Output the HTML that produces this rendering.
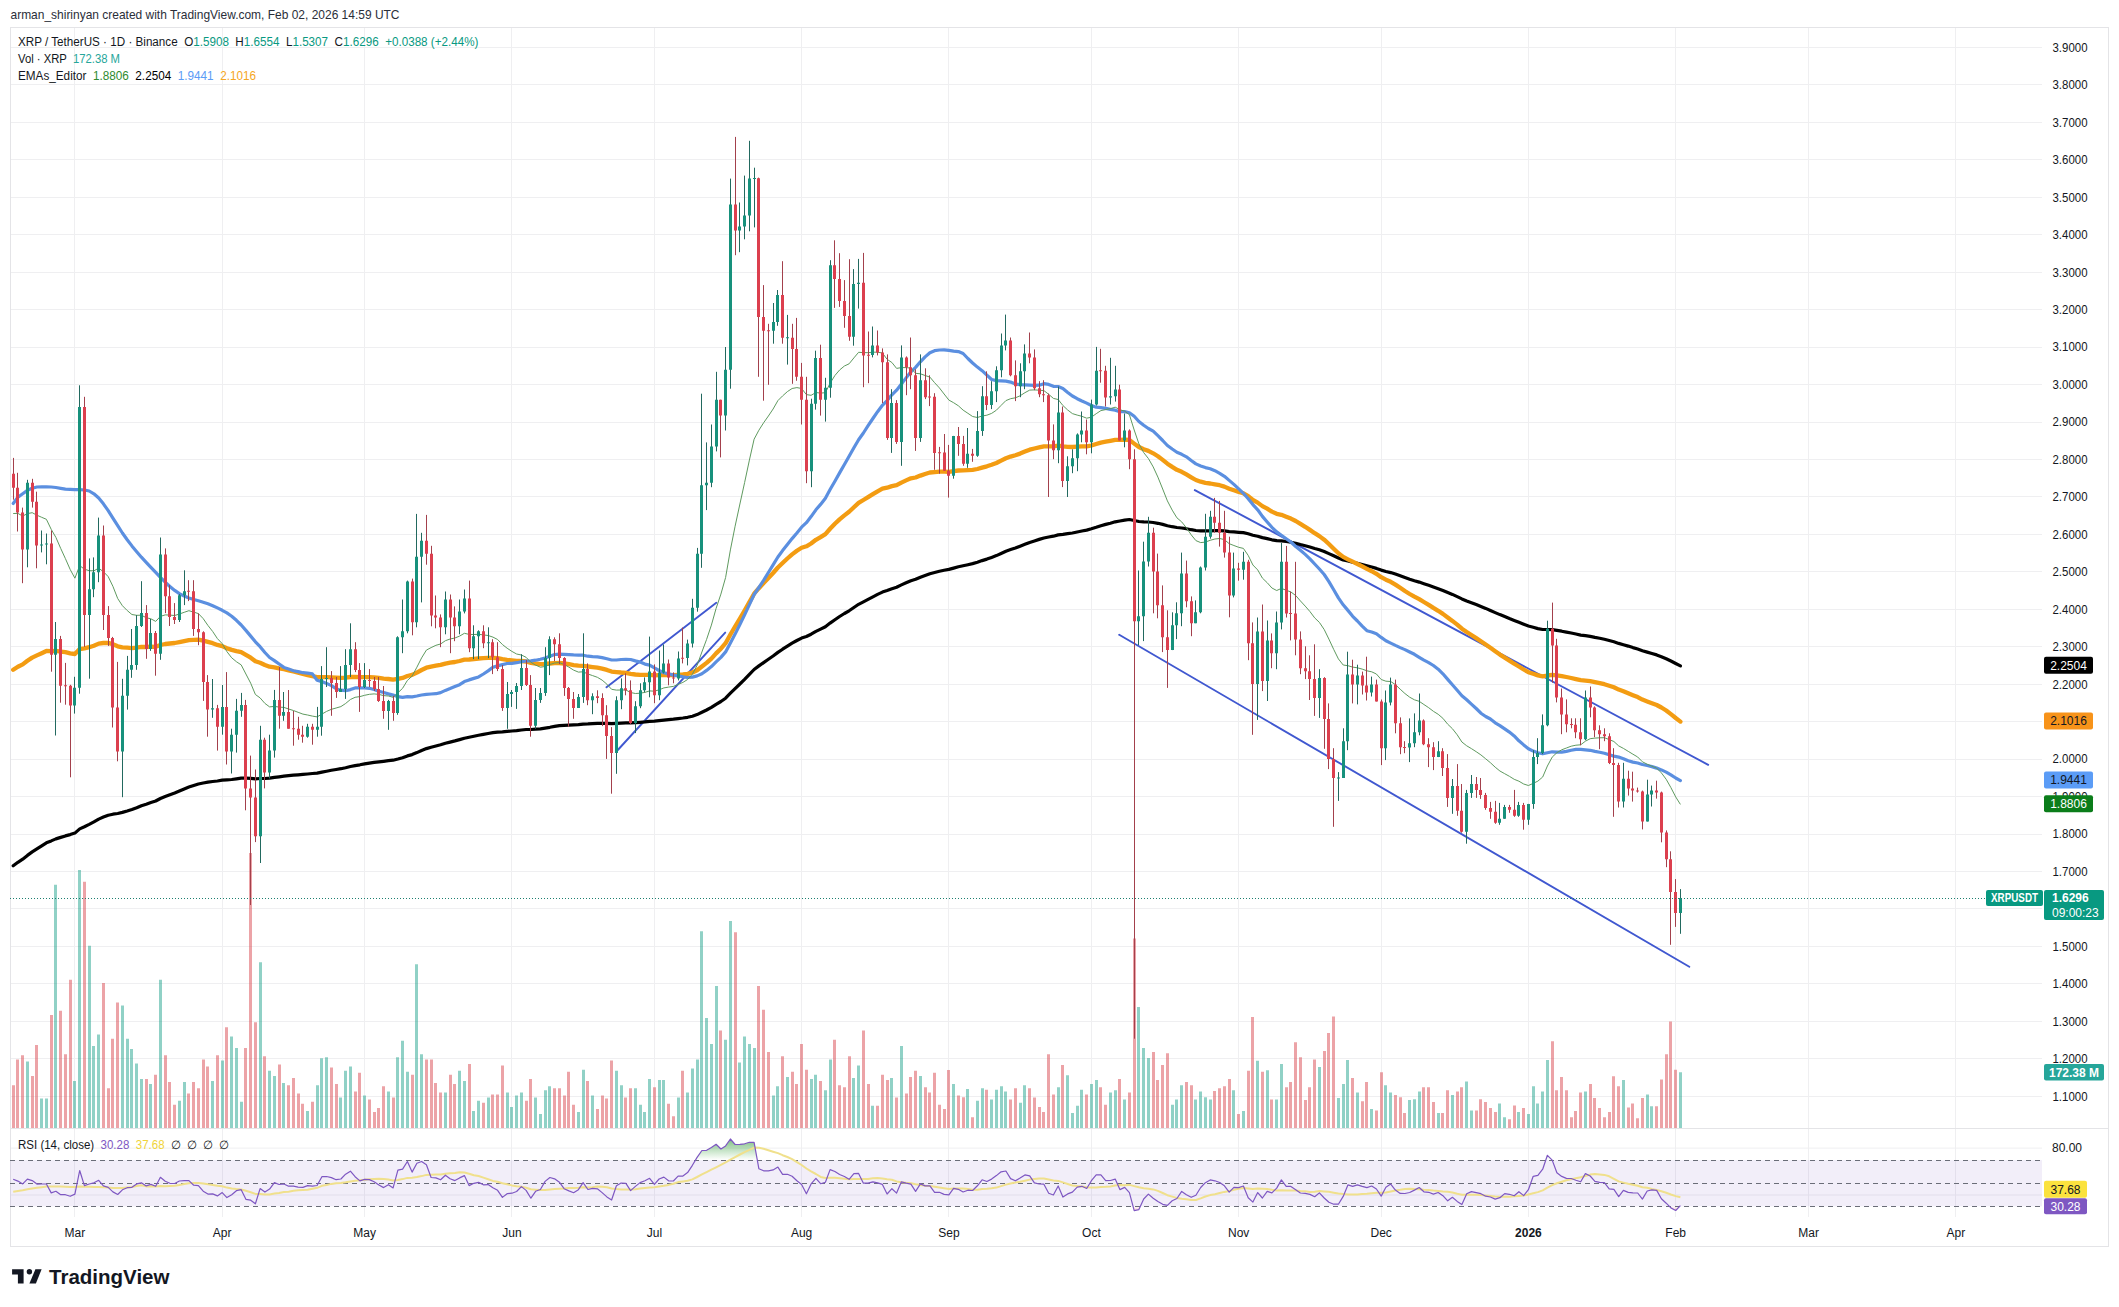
<!DOCTYPE html><html><head><meta charset="utf-8"><style>html,body{margin:0;padding:0;background:#fff;}svg{display:block;}text{font-family:"Liberation Sans", sans-serif;}</style></head><body>
<svg width="2119" height="1307" viewBox="0 0 2119 1307">
<defs><clipPath id="main"><rect x="10" y="27" width="2032" height="1101"/></clipPath><clipPath id="rsic"><rect x="10" y="1129" width="2032" height="88"/></clipPath><linearGradient id="ob" gradientUnits="userSpaceOnUse" x1="0" y1="1137" x2="0" y2="1160"><stop offset="0" stop-color="#3f9c45" stop-opacity="0.75"/><stop offset="1" stop-color="#4caf50" stop-opacity="0"/></linearGradient><linearGradient id="os" gradientUnits="userSpaceOnUse" x1="0" y1="1206" x2="0" y2="1216"><stop offset="0" stop-color="#f23645" stop-opacity="0"/><stop offset="1" stop-color="#f23645" stop-opacity="0.5"/></linearGradient></defs>
<rect width="2119" height="1307" fill="#ffffff"/>
<text x="10.5" y="18.5" font-size="13" fill="#2a2e39" textLength="389" lengthAdjust="spacingAndGlyphs">arman_shirinyan created with TradingView.com, Feb 02, 2026 14:59 UTC</text>
<path d="M10 1096.5H2042M10 1058.5H2042M10 1021.5H2042M10 983.5H2042M10 946.5H2042M10 908.5H2042M10 871.5H2042M10 834.5H2042M10 796.5H2042M10 759.5H2042M10 721.5H2042M10 684.5H2042M10 646.5H2042M10 609.5H2042M10 571.5H2042M10 534.5H2042M10 496.5H2042M10 459.5H2042M10 422.5H2042M10 384.5H2042M10 347.5H2042M10 309.5H2042M10 272.5H2042M10 234.5H2042M10 197.5H2042M10 159.5H2042M10 122.5H2042M10 84.5H2042M10 47.5H2042M74.5 27V1217M222.5 27V1217M364.5 27V1217M511.5 27V1217M654.5 27V1217M801.5 27V1217M948.5 27V1217M1091.5 27V1217M1238.5 27V1217M1381.5 27V1217M1528.5 27V1217M1675.5 27V1217M1808.5 27V1217M1955.5 27V1217" stroke="#efeff1" stroke-width="1" fill="none"/>
<path d="M10 1148.1H2042M10 1195H2042" stroke="#efeff1" stroke-width="1"/>
<rect x="10.5" y="27.5" width="2098" height="1219" fill="none" stroke="#e4e4e7" stroke-width="1"/>
<path d="M10 1128.5H2109" stroke="#e4e4e7" stroke-width="1"/>
<g clip-path="url(#main)">
<path d="M26 1061.4H29V1128H26ZM40 1098.6H43V1128H40ZM45 1098.6H48V1128H45ZM54 884.8H57V1128H54ZM73 1081.0H76V1128H73ZM78 869.9H81V1128H78ZM88 945.7H91V1128H88ZM92 1045.9H95V1128H92ZM97 1034.6H100V1128H97ZM121 1005.6H124V1128H121ZM126 1038.7H129V1128H126ZM130 1049.0H133V1128H130ZM135 1063.5H138V1128H135ZM140 1079.0H143V1128H140ZM149 1084.1H152V1128H149ZM159 979.8H162V1128H159ZM178 1100.7H181V1128H178ZM183 1082.1H186V1128H183ZM211 1081.0H214V1128H211ZM221 1060.4H224V1128H221ZM230 1036.6H233V1128H230ZM235 1048.0H238V1128H235ZM240 1101.7H243V1128H240ZM259 962.3H262V1128H259ZM268 1070.7H271V1128H268ZM273 1075.9H276V1128H273ZM282 1083.1H285V1128H282ZM306 1111.0H309V1128H306ZM316 1085.2H319V1128H316ZM320 1058.3H323V1128H320ZM325 1057.3H328V1128H325ZM339 1097.6H342V1128H339ZM344 1070.7H347V1128H344ZM349 1066.6H352V1128H349ZM363 1095.5H366V1128H363ZM387 1091.4H390V1128H387ZM396 1057.3H399V1128H396ZM401 1040.8H404V1128H401ZM406 1071.7H409V1128H406ZM415 964.3H418V1128H415ZM420 1054.2H423V1128H420ZM444 1092.4H447V1128H444ZM458 1070.7H461V1128H458ZM463 1081.0H466V1128H463ZM472 1111.0H475V1128H472ZM477 1100.7H480V1128H477ZM487 1097.6H490V1128H487ZM506 1092.4H509V1128H506ZM510 1106.9H513V1128H510ZM515 1095.5H518V1128H515ZM520 1092.4H523V1128H520ZM534 1097.6H537V1128H534ZM539 1114.1H542V1128H539ZM544 1090.3H547V1128H544ZM548 1086.2H551V1128H548ZM577 1112.0H580V1128H577ZM582 1069.7H585V1128H582ZM591 1095.5H594V1128H591ZM615 1070.7H618V1128H615ZM620 1085.2H623V1128H620ZM634 1088.3H637V1128H634ZM639 1104.8H642V1128H639ZM643 1112.0H646V1128H643ZM648 1079.0H651V1128H648ZM658 1080.0H661V1128H658ZM662 1080.0H665V1128H662ZM677 1097.6H680V1128H677ZM686 1092.4H689V1128H686ZM691 1068.6H694V1128H691ZM696 1059.4H699V1128H696ZM700 931.3H703V1128H700ZM705 1018.0H708V1128H705ZM710 1043.9H713V1128H710ZM715 986.0H718V1128H715ZM724 1039.7H727V1128H724ZM729 920.9H732V1128H729ZM738 1062.5H741V1128H738ZM743 1036.6H746V1128H743ZM748 1043.9H751V1128H748ZM753 1048.0H756V1128H753ZM772 1095.5H775V1128H772ZM776 1086.2H779V1128H776ZM786 1076.9H789V1128H786ZM810 1079.0H813V1128H810ZM814 1074.8H817V1128H814ZM824 1090.3H827V1128H824ZM829 1059.4H832V1128H829ZM852 1077.9H855V1128H852ZM857 1065.5H860V1128H857ZM871 1105.8H874V1128H871ZM890 1077.9H893V1128H890ZM900 1045.9H903V1128H900ZM919 1075.9H922V1128H919ZM952 1084.1H955V1128H952ZM966 1088.9H969V1128H966ZM976 1100.7H979V1128H976ZM981 1088.3H984V1128H981ZM990 1099.6H993V1128H990ZM995 1089.7H998V1128H995ZM1000 1086.2H1003V1128H1000ZM1004 1091.4H1007V1128H1004ZM1019 1102.7H1022V1128H1019ZM1023 1085.2H1026V1128H1023ZM1057 1087.2H1060V1128H1057ZM1066 1075.3H1069V1128H1066ZM1071 1113.1H1074V1128H1071ZM1076 1105.8H1079V1128H1076ZM1080 1089.7H1083V1128H1080ZM1090 1084.1H1093V1128H1090ZM1095 1080.0H1098V1128H1095ZM1109 1092.4H1112V1128H1109ZM1114 1090.3H1117V1128H1114ZM1123 1099.6H1126V1128H1123ZM1137 1007.1H1140V1128H1137ZM1142 1048.0H1145V1128H1142ZM1147 1057.9H1150V1128H1147ZM1171 1104.8H1174V1128H1171ZM1175 1099.6H1178V1128H1175ZM1180 1085.2H1183V1128H1180ZM1194 1099.6H1197V1128H1194ZM1199 1091.4H1202V1128H1199ZM1204 1097.2H1207V1128H1204ZM1209 1099.6H1212V1128H1209ZM1232 1090.3H1235V1128H1232ZM1242 1111.0H1245V1128H1242ZM1256 1060.8H1259V1128H1256ZM1266 1070.3H1269V1128H1266ZM1275 1099.6H1278V1128H1275ZM1280 1064.1H1283V1128H1280ZM1318 1067.0H1321V1128H1318ZM1337 1098.0H1340V1128H1337ZM1342 1084.1H1345V1128H1342ZM1346 1060.0H1349V1128H1346ZM1356 1092.4H1359V1128H1356ZM1370 1108.9H1373V1128H1370ZM1384 1085.2H1387V1128H1384ZM1389 1092.4H1392V1128H1389ZM1408 1100.0H1411V1128H1408ZM1413 1099.2H1416V1128H1413ZM1418 1091.4H1421V1128H1418ZM1437 1113.1H1440V1128H1437ZM1451 1095.1H1454V1128H1451ZM1465 1081.5H1468V1128H1465ZM1470 1110.4H1473V1128H1470ZM1498 1103.4H1501V1128H1498ZM1503 1117.2H1506V1128H1503ZM1517 1112.0H1520V1128H1517ZM1527 1114.1H1530V1128H1527ZM1532 1086.2H1535V1128H1532ZM1536 1103.4H1539V1128H1536ZM1541 1091.4H1544V1128H1541ZM1546 1060.0H1549V1128H1546ZM1584 1091.4H1587V1128H1584ZM1622 1080.0H1625V1128H1622ZM1646 1094.5H1649V1128H1646ZM1650 1106.2H1653V1128H1650ZM1679 1072.2H1682V1128H1679Z" fill="#089981" fill-opacity="0.45"/>
<path d="M12 1085.2H15V1128H12ZM16 1059.4H19V1128H16ZM21 1055.2H24V1128H21ZM31 1075.9H34V1128H31ZM35 1044.9H38V1128H35ZM50 1014.9H53V1128H50ZM59 1010.8H62V1128H59ZM64 1054.2H67V1128H64ZM69 979.8H72V1128H69ZM83 881.7H86V1128H83ZM102 982.9H105V1128H102ZM107 1088.3H110V1128H107ZM111 1038.7H114V1128H111ZM116 1002.5H119V1128H116ZM145 1079.0H148V1128H145ZM154 1074.8H157V1128H154ZM164 1055.2H167V1128H164ZM168 1082.1H171V1128H168ZM173 1104.8H176V1128H173ZM187 1093.4H190V1128H187ZM192 1082.1H195V1128H192ZM197 1088.3H200V1128H197ZM202 1059.4H205V1128H202ZM206 1066.6H209V1128H206ZM216 1055.2H219V1128H216ZM225 1027.3H228V1128H225ZM244 1048.0H247V1128H244ZM249 853.0H252V1128H249ZM254 1022.2H257V1128H254ZM263 1056.3H266V1128H263ZM278 1064.5H281V1128H278ZM287 1085.2H290V1128H287ZM292 1077.9H295V1128H292ZM297 1093.4H300V1128H297ZM301 1103.8H304V1128H301ZM311 1101.7H314V1128H311ZM330 1067.6H333V1128H330ZM335 1084.1H338V1128H335ZM354 1091.4H357V1128H354ZM358 1072.8H361V1128H358ZM368 1099.6H371V1128H368ZM373 1112.0H376V1128H373ZM377 1107.9H380V1128H377ZM382 1086.2H385V1128H382ZM392 1097.6H395V1128H392ZM411 1074.8H414V1128H411ZM425 1059.4H428V1128H425ZM430 1059.4H433V1128H430ZM434 1083.1H437V1128H434ZM439 1092.4H442V1128H439ZM449 1074.8H452V1128H449ZM453 1084.1H456V1128H453ZM468 1064.1H471V1128H468ZM482 1102.7H485V1128H482ZM491 1094.5H494V1128H491ZM496 1094.5H499V1128H496ZM501 1065.5H504V1128H501ZM525 1100.7H528V1128H525ZM529 1079.0H532V1128H529ZM553 1088.3H556V1128H553ZM558 1088.3H561V1128H558ZM563 1095.5H566V1128H563ZM567 1071.7H570V1128H567ZM572 1104.8H575V1128H572ZM586 1081.0H589V1128H586ZM596 1108.9H599V1128H596ZM601 1095.5H604V1128H601ZM605 1098.6H608V1128H605ZM610 1060.4H613V1128H610ZM624 1097.6H627V1128H624ZM629 1088.3H632V1128H629ZM653 1087.2H656V1128H653ZM667 1103.8H670V1128H667ZM672 1116.2H675V1128H672ZM681 1070.7H684V1128H681ZM719 1030.4H722V1128H719ZM734 932.3H737V1128H734ZM757 986.0H760V1128H757ZM762 1009.8H765V1128H762ZM767 1052.1H770V1128H767ZM781 1056.3H784V1128H781ZM791 1071.7H794V1128H791ZM795 1084.1H798V1128H795ZM800 1043.9H803V1128H800ZM805 1069.7H808V1128H805ZM819 1081.0H822V1128H819ZM833 1039.7H836V1128H833ZM838 1085.2H841V1128H838ZM843 1087.2H846V1128H843ZM848 1056.3H851V1128H848ZM862 1030.4H865V1128H862ZM867 1084.1H870V1128H867ZM876 1105.8H879V1128H876ZM881 1074.8H884V1128H881ZM886 1080.0H889V1128H886ZM895 1097.6H898V1128H895ZM905 1093.4H908V1128H905ZM909 1076.9H912V1128H909ZM914 1070.7H917V1128H914ZM924 1087.2H927V1128H924ZM928 1092.4H931V1128H928ZM933 1072.8H936V1128H933ZM938 1104.8H941V1128H938ZM943 1108.9H946V1128H943ZM947 1070.1H950V1128H947ZM957 1095.5H960V1128H957ZM962 1097.2H965V1128H962ZM971 1117.2H974V1128H971ZM985 1089.7H988V1128H985ZM1009 1099.6H1012V1128H1009ZM1014 1088.3H1017V1128H1014ZM1028 1088.3H1031V1128H1028ZM1033 1097.6H1036V1128H1033ZM1038 1106.9H1041V1128H1038ZM1042 1112.0H1045V1128H1042ZM1047 1054.2H1050V1128H1047ZM1052 1094.5H1055V1128H1052ZM1061 1065.1H1064V1128H1061ZM1085 1094.5H1088V1128H1085ZM1099 1087.2H1102V1128H1099ZM1104 1104.8H1107V1128H1104ZM1118 1079.0H1121V1128H1118ZM1128 1092.4H1131V1128H1128ZM1133 938.5H1136V1128H1133ZM1152 1052.1H1155V1128H1152ZM1156 1080.0H1159V1128H1156ZM1161 1064.9H1164V1128H1161ZM1166 1053.2H1169V1128H1166ZM1185 1082.1H1188V1128H1185ZM1190 1085.2H1193V1128H1190ZM1213 1091.0H1216V1128H1213ZM1218 1088.3H1221V1128H1218ZM1223 1086.2H1226V1128H1223ZM1228 1079.0H1231V1128H1228ZM1237 1114.1H1240V1128H1237ZM1247 1070.7H1250V1128H1247ZM1251 1017.0H1254V1128H1251ZM1261 1071.7H1264V1128H1261ZM1270 1099.6H1273V1128H1270ZM1285 1087.2H1288V1128H1285ZM1289 1082.1H1292V1128H1289ZM1294 1042.2H1297V1128H1294ZM1299 1057.3H1302V1128H1299ZM1304 1100.0H1307V1128H1304ZM1308 1087.2H1311V1128H1308ZM1313 1059.4H1316V1128H1313ZM1323 1051.1H1326V1128H1323ZM1327 1033.1H1330V1128H1327ZM1332 1016.4H1335V1128H1332ZM1351 1077.9H1354V1128H1351ZM1361 1101.3H1364V1128H1361ZM1365 1082.1H1368V1128H1365ZM1375 1110.4H1378V1128H1375ZM1380 1072.2H1383V1128H1380ZM1394 1095.1H1397V1128H1394ZM1399 1097.2H1402V1128H1399ZM1403 1113.1H1406V1128H1403ZM1422 1087.2H1425V1128H1422ZM1427 1087.2H1430V1128H1427ZM1432 1102.1H1435V1128H1432ZM1441 1113.1H1444V1128H1441ZM1446 1090.3H1449V1128H1446ZM1456 1091.4H1459V1128H1456ZM1460 1087.2H1463V1128H1460ZM1475 1110.4H1478V1128H1475ZM1479 1099.2H1482V1128H1479ZM1484 1102.1H1487V1128H1484ZM1489 1107.9H1492V1128H1489ZM1494 1112.0H1497V1128H1494ZM1508 1119.3H1511V1128H1508ZM1513 1105.4H1516V1128H1513ZM1522 1107.9H1525V1128H1522ZM1551 1041.2H1554V1128H1551ZM1555 1090.3H1558V1128H1555ZM1560 1076.9H1563V1128H1560ZM1565 1090.3H1568V1128H1565ZM1570 1117.2H1573V1128H1570ZM1574 1111.0H1577V1128H1574ZM1579 1092.4H1582V1128H1579ZM1589 1084.1H1592V1128H1589ZM1593 1098.0H1596V1128H1593ZM1598 1107.9H1601V1128H1598ZM1603 1117.2H1606V1128H1603ZM1608 1112.0H1611V1128H1608ZM1612 1076.3H1615V1128H1612ZM1617 1086.2H1620V1128H1617ZM1627 1107.5H1630V1128H1627ZM1631 1103.4H1634V1128H1631ZM1636 1118.2H1639V1128H1636ZM1641 1098.0H1644V1128H1641ZM1655 1106.2H1658V1128H1655ZM1660 1079.4H1663V1128H1660ZM1665 1054.2H1668V1128H1665ZM1669 1021.5H1672V1128H1669ZM1674 1069.7H1677V1128H1674Z" fill="#d9484f" fill-opacity="0.5"/>
<path d="M606.5 687.3L716.3 602.8M617.8 750L725.2 632.6M1194.8 490.1L1708.2 764.8M1119.2 634.8L1689.3 966.7" stroke="#4058d0" stroke-width="1.9" fill="none" stroke-linecap="round"/>
<path d="M13.2 865.8L17.9 862.3L22.7 859.2L27.4 855.4L32.2 851.9L36.9 848.9L41.7 845.8L46.4 842.8L51.2 840.9L55.9 838.9L60.7 837.4L65.4 835.9L70.2 834.6L74.9 833.1L79.7 828.9L84.4 826.8L89.2 824.4L93.9 821.9L98.7 819.1L103.4 817.0L108.2 815.2L112.9 814.2L117.7 813.5L122.4 812.4L127.2 811.0L131.9 809.5L136.7 807.7L141.4 805.7L146.2 804.2L150.9 802.5L155.7 801.0L160.4 798.5L165.2 796.5L169.9 794.7L174.7 793.0L179.4 791.0L184.2 789.0L188.9 787.1L193.7 785.5L198.4 784.0L203.2 783.0L207.9 782.2L212.7 781.5L217.4 781.0L222.2 780.2L226.9 779.9L231.7 779.5L236.4 778.8L241.2 778.1L245.9 778.2L250.7 778.4L255.4 778.9L260.1 778.5L264.9 778.5L269.6 778.2L274.4 777.4L279.1 776.8L283.9 776.2L288.6 775.7L293.4 775.2L298.1 774.8L302.9 774.4L307.6 774.0L312.4 773.5L317.1 773.1L321.9 772.1L326.6 771.2L331.4 770.3L336.1 769.5L340.9 768.7L345.6 767.7L350.4 766.5L355.1 765.6L359.9 764.8L364.6 763.9L369.4 763.1L374.1 762.4L378.9 761.8L383.6 761.3L388.4 760.7L393.1 760.2L397.9 759.0L402.6 757.7L407.4 755.9L412.1 754.6L416.9 752.6L421.6 750.5L426.4 748.6L431.1 747.2L435.9 746.0L440.6 744.8L445.4 743.3L450.1 742.1L454.9 740.9L459.6 739.6L464.4 738.2L469.1 737.3L473.9 736.3L478.6 735.3L483.4 734.4L488.1 733.5L492.9 732.7L497.6 732.1L502.4 731.8L507.1 731.4L511.9 731.0L516.6 730.6L521.4 730.0L526.1 729.5L530.9 729.5L535.6 729.2L540.4 728.8L545.1 728.1L549.9 727.3L554.6 726.4L559.4 725.7L564.1 725.4L568.9 725.1L573.6 724.9L578.4 724.7L583.1 724.1L587.9 723.9L592.6 723.6L597.4 723.3L602.1 723.3L606.9 723.4L611.6 723.7L616.4 723.4L621.1 723.1L625.9 722.8L630.6 722.8L635.4 722.6L640.1 722.3L644.9 721.9L649.6 721.4L654.4 721.1L659.1 720.6L663.9 720.1L668.6 719.6L673.4 719.2L678.1 718.6L682.9 718.0L687.6 717.3L692.4 716.2L697.1 714.6L701.9 712.3L706.6 710.0L711.4 707.4L716.1 704.3L720.9 701.5L725.6 698.2L730.4 693.2L735.1 688.6L739.9 684.0L744.6 679.4L749.4 674.4L754.1 669.5L758.9 665.9L763.6 662.6L768.4 659.3L773.1 656.0L777.9 652.4L782.6 649.2L787.4 646.1L792.1 643.2L796.9 640.5L801.6 638.1L806.4 636.5L811.1 634.2L815.9 631.4L820.6 629.1L825.4 626.7L830.1 623.1L834.9 619.7L839.6 616.5L844.4 613.5L849.1 610.8L853.9 607.5L858.6 604.3L863.4 601.8L868.1 599.3L872.9 596.8L877.6 594.4L882.4 592.1L887.1 590.5L891.9 588.7L896.6 587.2L901.4 584.9L906.1 582.8L910.9 580.7L915.6 579.3L920.4 577.3L925.1 575.5L929.9 573.7L934.6 572.5L939.4 571.3L944.1 570.3L948.9 569.4L953.6 568.1L958.4 566.8L963.1 565.8L967.9 564.7L972.6 563.6L977.4 562.3L982.1 560.6L986.9 559.1L991.6 557.4L996.4 555.6L1001.1 553.5L1005.9 551.3L1010.6 549.6L1015.4 548.0L1020.1 546.2L1024.9 544.3L1029.7 542.4L1034.4 540.9L1039.2 539.4L1043.9 538.0L1048.7 537.0L1053.4 536.2L1058.2 534.9L1062.9 534.4L1067.7 533.7L1072.4 533.0L1077.2 532.0L1081.9 531.0L1086.7 530.1L1091.4 528.8L1096.2 527.3L1100.9 525.7L1105.7 524.4L1110.4 523.2L1115.2 521.8L1119.9 521.0L1124.7 520.1L1129.4 519.5L1134.2 520.5L1138.9 521.5L1143.7 521.9L1148.4 522.0L1153.2 522.5L1157.9 523.3L1162.7 524.4L1167.4 525.7L1172.2 526.7L1176.9 527.5L1181.7 528.0L1186.4 528.7L1191.2 529.7L1195.9 530.5L1200.7 530.9L1205.4 530.9L1210.2 530.8L1214.9 530.7L1219.7 530.7L1224.4 530.9L1229.2 531.6L1233.9 531.9L1238.7 532.3L1243.4 532.6L1248.2 533.7L1252.9 535.2L1257.7 536.2L1262.4 537.6L1267.2 538.6L1271.9 539.8L1276.7 540.6L1281.4 540.8L1286.2 541.5L1290.9 542.2L1295.7 543.2L1300.4 544.5L1305.2 545.7L1309.9 547.0L1314.7 548.5L1319.4 549.8L1324.2 551.5L1328.9 553.6L1333.7 555.8L1338.4 558.0L1343.2 559.9L1347.9 561.0L1352.7 562.2L1357.4 563.4L1362.2 564.6L1366.9 565.8L1371.7 567.0L1376.4 568.4L1381.2 570.1L1385.9 571.5L1390.7 572.6L1395.4 574.1L1400.2 575.8L1404.9 577.5L1409.7 579.2L1414.4 580.7L1419.2 582.1L1423.9 583.7L1428.7 585.3L1433.4 587.0L1438.2 588.7L1442.9 590.5L1447.7 592.5L1452.4 594.4L1457.2 596.6L1461.9 598.9L1466.7 600.9L1471.4 602.7L1476.2 604.5L1480.9 606.4L1485.7 608.4L1490.4 610.5L1495.2 612.6L1499.9 614.6L1504.7 616.5L1509.4 618.5L1514.2 620.4L1518.9 622.3L1523.7 624.2L1528.4 626.0L1533.2 627.3L1537.9 628.6L1542.7 629.5L1547.4 629.5L1552.2 629.7L1556.9 630.4L1561.7 631.2L1566.4 632.1L1571.2 633.0L1575.9 634.0L1580.7 635.1L1585.4 635.7L1590.2 636.4L1594.9 637.4L1599.7 638.3L1604.4 639.3L1609.2 640.5L1613.9 641.8L1618.7 643.4L1623.4 644.7L1628.2 646.1L1632.9 647.6L1637.7 649.0L1642.4 650.7L1647.2 652.1L1651.9 653.5L1656.7 654.9L1661.4 656.7L1666.2 658.7L1670.9 661.0L1675.7 663.5L1680.4 665.9" stroke="#000000" stroke-width="3.2" fill="none" stroke-linejoin="round" stroke-linecap="round"/>
<path d="M13.2 669.8L17.9 666.7L22.7 664.4L27.4 660.8L32.2 657.6L36.9 655.4L41.7 653.2L46.4 651.0L51.2 651.1L55.9 650.9L60.7 651.6L65.4 652.2L70.2 653.3L74.9 654.0L79.7 649.1L84.4 648.4L89.2 647.2L93.9 645.7L98.7 643.6L103.4 643.0L108.2 642.9L112.9 644.2L117.7 646.3L122.4 647.3L127.2 647.7L131.9 648.1L136.7 647.6L141.4 646.9L146.2 647.0L150.9 646.7L155.7 646.8L160.4 645.0L165.2 644.0L169.9 643.5L174.7 643.0L179.4 642.1L184.2 641.1L188.9 640.1L193.7 639.9L198.4 639.7L203.2 640.6L207.9 641.9L212.7 643.2L217.4 644.9L222.2 646.1L226.9 648.2L231.7 649.9L236.4 651.1L241.2 652.2L245.9 654.9L250.7 657.7L255.4 661.3L260.1 662.8L264.9 665.0L269.6 666.7L274.4 667.3L279.1 668.3L283.9 669.2L288.6 670.3L293.4 671.5L298.1 672.7L302.9 674.0L307.6 675.1L312.4 676.1L317.1 677.1L321.9 677.2L326.6 677.2L331.4 677.3L336.1 677.6L340.9 677.8L345.6 677.6L350.4 677.0L355.1 676.9L359.9 677.1L364.6 677.1L369.4 677.2L374.1 677.4L378.9 677.9L383.6 678.6L388.4 679.0L393.1 679.7L397.9 678.8L402.6 677.9L407.4 676.0L412.1 674.9L416.9 672.6L421.6 670.0L426.4 667.7L431.1 666.6L435.9 665.7L440.6 664.9L445.4 663.6L450.1 662.7L454.9 662.0L459.6 661.0L464.4 659.7L469.1 659.5L473.9 659.0L478.6 658.5L483.4 658.2L488.1 657.9L492.9 657.9L497.6 658.1L502.4 659.1L507.1 659.8L511.9 660.4L516.6 660.9L521.4 661.0L526.1 661.5L530.9 662.8L535.6 663.5L540.4 664.1L545.1 664.0L549.9 663.5L554.6 663.1L559.4 663.0L564.1 663.5L568.9 664.2L573.6 665.1L578.4 665.7L583.1 665.8L587.9 666.5L592.6 667.1L597.4 667.7L602.1 668.6L606.9 669.9L611.6 671.6L616.4 672.1L621.1 672.5L625.9 672.8L630.6 673.8L635.4 674.5L640.1 674.8L644.9 674.9L649.6 674.9L654.4 675.3L659.1 675.2L663.9 675.0L668.6 675.0L673.4 675.1L678.1 674.8L682.9 674.4L687.6 673.8L692.4 672.5L697.1 670.2L701.9 666.5L706.6 662.9L711.4 658.6L716.1 653.4L720.9 648.7L725.6 643.2L730.4 634.5L735.1 626.5L739.9 618.6L744.6 610.6L749.4 602.1L754.1 593.7L758.9 588.2L763.6 583.1L768.4 578.1L773.1 573.0L777.9 567.5L782.6 563.0L787.4 558.5L792.1 554.4L796.9 550.8L801.6 547.8L806.4 546.3L811.1 543.5L815.9 539.8L820.6 537.1L825.4 534.1L830.1 528.8L834.9 523.8L839.6 519.4L844.4 515.4L849.1 511.8L853.9 507.3L858.6 502.9L863.4 500.0L868.1 497.1L872.9 494.1L877.6 491.3L882.4 488.7L887.1 487.7L891.9 486.1L896.6 485.2L901.4 482.6L906.1 480.4L910.9 478.3L915.6 477.5L920.4 475.6L925.1 474.0L929.9 472.5L934.6 472.1L939.4 471.7L944.1 471.7L948.9 471.8L953.6 471.1L958.4 470.5L963.1 470.4L967.9 470.1L972.6 469.8L977.4 469.0L982.1 467.6L986.9 466.3L991.6 464.8L996.4 463.0L1001.1 460.6L1005.9 458.3L1010.6 456.6L1015.4 455.2L1020.1 453.6L1024.9 451.6L1029.7 449.7L1034.4 448.5L1039.2 447.4L1043.9 446.4L1048.7 446.3L1053.4 446.3L1058.2 445.7L1062.9 446.4L1067.7 446.8L1072.4 447.0L1077.2 446.7L1081.9 446.4L1086.7 446.3L1091.4 445.5L1096.2 444.0L1100.9 442.6L1105.7 441.7L1110.4 440.8L1115.2 439.8L1119.9 439.8L1124.7 439.6L1129.4 440.0L1134.2 443.6L1138.9 447.0L1143.7 449.3L1148.4 450.9L1153.2 453.3L1157.9 456.3L1162.7 459.9L1167.4 463.7L1172.2 466.9L1176.9 469.8L1181.7 471.8L1186.4 474.4L1191.2 477.3L1195.9 480.0L1200.7 481.7L1205.4 482.8L1210.2 483.5L1214.9 484.3L1219.7 485.2L1224.4 486.6L1229.2 488.7L1233.9 490.3L1238.7 491.9L1243.4 493.3L1248.2 496.2L1252.9 500.0L1257.7 502.6L1262.4 506.1L1267.2 508.7L1271.9 511.6L1276.7 513.8L1281.4 514.8L1286.2 516.7L1290.9 518.6L1295.7 521.0L1300.4 523.9L1305.2 526.8L1309.9 529.9L1314.7 533.2L1319.4 536.1L1324.2 539.7L1328.9 544.0L1333.7 548.7L1338.4 553.2L1343.2 556.9L1347.9 559.3L1352.7 561.7L1357.4 564.0L1362.2 566.4L1366.9 568.9L1371.7 571.2L1376.4 573.8L1381.2 577.2L1385.9 579.7L1390.7 581.8L1395.4 584.6L1400.2 587.8L1404.9 591.0L1409.7 594.0L1414.4 596.7L1419.2 599.2L1423.9 602.0L1428.7 604.9L1433.4 607.9L1438.2 610.8L1442.9 613.9L1447.7 617.5L1452.4 620.9L1457.2 624.6L1461.9 628.7L1466.7 632.0L1471.4 635.0L1476.2 638.1L1480.9 641.2L1485.7 644.5L1490.4 647.8L1495.2 651.2L1499.9 654.6L1504.7 657.6L1509.4 660.6L1514.2 663.7L1518.9 666.5L1523.7 669.5L1528.4 672.2L1533.2 673.8L1537.9 675.4L1542.7 676.4L1547.4 675.5L1552.2 674.9L1556.9 675.3L1561.7 676.1L1566.4 677.0L1571.2 678.0L1575.9 679.1L1580.7 680.2L1585.4 680.6L1590.2 681.1L1594.9 682.1L1599.7 683.1L1604.4 684.2L1609.2 685.7L1613.9 687.3L1618.7 689.6L1623.4 691.3L1628.2 693.3L1632.9 695.2L1637.7 697.1L1642.4 699.6L1647.2 701.4L1651.9 703.2L1656.7 705.0L1661.4 707.5L1666.2 710.5L1670.9 714.1L1675.7 718.0L1680.4 721.6" stroke="#f39c12" stroke-width="4.3" fill="none" stroke-linejoin="round" stroke-linecap="round"/>
<path d="M13.2 503.5L17.9 497.3L22.7 493.7L27.4 490.4L32.2 488.2L36.9 487.0L41.7 486.8L46.4 486.8L51.2 487.0L55.9 487.5L60.7 488.3L65.4 489.1L70.2 489.4L74.9 489.6L79.7 489.7L84.4 490.0L89.2 491.0L93.9 493.8L98.7 498.0L103.4 503.8L108.2 510.6L112.9 518.2L117.7 525.7L122.4 533.0L127.2 539.7L131.9 545.9L136.7 551.7L141.4 557.2L146.2 562.3L150.9 567.4L155.7 572.4L160.4 577.4L165.2 582.1L169.9 586.5L174.7 590.4L179.4 593.6L184.2 596.1L188.9 598.0L193.7 599.5L198.4 600.8L203.2 602.2L207.9 603.8L212.7 605.7L217.4 607.9L222.2 610.3L226.9 612.9L231.7 616.2L236.4 620.3L241.2 625.0L245.9 630.4L250.7 636.1L255.4 641.8L260.1 646.7L264.9 652.5L269.6 657.5L274.4 660.6L279.1 664.0L283.9 667.4L288.6 668.9L293.4 670.7L298.1 671.6L302.9 672.7L307.6 673.1L312.4 673.9L317.1 680.3L321.9 681.6L326.6 683.4L331.4 685.6L336.1 688.7L340.9 690.2L345.6 690.7L350.4 689.6L355.1 687.9L359.9 687.8L364.6 688.0L369.4 688.3L374.1 689.5L378.9 691.3L383.6 692.5L388.4 693.9L393.1 695.1L397.9 696.7L402.6 697.4L407.4 696.7L412.1 696.8L416.9 696.0L421.6 695.0L426.4 694.3L431.1 694.0L435.9 693.7L440.6 692.6L445.4 690.4L450.1 688.6L454.9 686.6L459.6 684.7L464.4 681.6L469.1 679.9L473.9 678.4L478.6 676.9L483.4 674.0L488.1 670.9L492.9 667.3L497.6 665.9L502.4 664.6L507.1 663.5L511.9 663.3L516.6 662.7L521.4 661.8L526.1 661.0L530.9 660.9L535.6 660.2L540.4 659.3L545.1 658.0L549.9 656.2L554.6 654.5L559.4 654.1L564.1 654.3L568.9 654.6L573.6 654.9L578.4 655.1L583.1 655.2L587.9 656.2L592.6 656.7L597.4 656.9L602.1 657.6L606.9 658.7L611.6 660.0L616.4 660.0L621.1 659.5L625.9 659.3L630.6 659.5L635.4 660.9L640.1 662.1L644.9 664.1L649.6 665.1L654.4 667.9L659.1 670.5L663.9 672.7L668.6 673.9L673.4 675.1L678.1 675.8L682.9 676.9L687.6 677.5L692.4 677.1L697.1 675.9L701.9 673.7L706.6 670.4L711.4 666.6L716.1 661.9L720.9 657.4L725.6 651.9L730.4 642.9L735.1 634.1L739.9 624.5L744.6 614.9L749.4 604.6L754.1 594.5L758.9 587.5L763.6 580.4L768.4 572.5L773.1 564.9L777.9 557.0L782.6 550.6L787.4 544.5L792.1 538.6L796.9 533.0L801.6 527.2L806.4 522.7L811.1 516.6L815.9 509.8L820.6 504.4L825.4 498.2L830.1 489.6L834.9 481.2L839.6 472.9L844.4 464.5L849.1 456.2L853.9 447.8L858.6 439.7L863.4 433.0L868.1 425.7L872.9 418.5L877.6 411.7L882.4 405.3L887.1 400.6L891.9 394.8L896.6 390.2L901.4 384.1L906.1 377.9L910.9 371.8L915.6 367.4L920.4 361.8L925.1 356.9L929.9 352.7L934.6 350.7L939.4 350.0L944.1 349.8L948.9 350.3L953.6 351.1L958.4 351.6L963.1 353.5L967.9 358.5L972.6 363.0L977.4 367.1L982.1 370.7L986.9 375.2L991.6 379.5L996.4 380.6L1001.1 380.9L1005.9 381.1L1010.6 382.1L1015.4 384.0L1020.1 384.6L1024.9 384.9L1029.7 385.1L1034.4 385.3L1039.2 385.2L1043.9 383.7L1048.7 384.4L1053.4 386.3L1058.2 386.5L1062.9 388.4L1067.7 392.4L1072.4 396.0L1077.2 398.7L1081.9 401.0L1086.7 403.1L1091.4 405.5L1096.2 407.2L1100.9 407.6L1105.7 408.4L1110.4 409.4L1115.2 410.2L1119.9 411.7L1124.7 411.6L1129.4 412.7L1134.2 416.3L1138.9 421.5L1143.7 425.3L1148.4 428.5L1153.2 431.2L1157.9 435.7L1162.7 440.5L1167.4 445.5L1172.2 449.0L1176.9 452.2L1181.7 454.3L1186.4 456.8L1191.2 460.5L1195.9 463.9L1200.7 466.0L1205.4 467.6L1210.2 468.8L1214.9 470.7L1219.7 473.4L1224.4 476.3L1229.2 480.4L1233.9 484.4L1238.7 488.9L1243.4 493.3L1248.2 498.7L1252.9 504.6L1257.7 509.8L1262.4 516.4L1267.2 522.0L1271.9 527.3L1276.7 531.9L1281.4 535.2L1286.2 538.7L1290.9 542.0L1295.7 546.5L1300.4 550.3L1305.2 554.4L1309.9 558.8L1314.7 564.0L1319.4 569.0L1324.2 574.5L1328.9 581.6L1333.7 589.8L1338.4 597.9L1343.2 604.8L1347.9 610.4L1352.7 616.3L1357.4 621.0L1362.2 626.1L1366.9 630.7L1371.7 632.0L1376.4 633.7L1381.2 637.4L1385.9 640.8L1390.7 643.1L1395.4 645.4L1400.2 647.6L1404.9 649.6L1409.7 652.0L1414.4 654.3L1419.2 657.3L1423.9 660.1L1428.7 662.6L1433.4 665.5L1438.2 669.2L1442.9 673.8L1447.7 679.4L1452.4 684.7L1457.2 690.3L1461.9 695.8L1466.7 699.8L1471.4 704.1L1476.2 708.5L1480.9 713.2L1485.7 716.5L1490.4 719.0L1495.2 722.8L1499.9 725.6L1504.7 728.9L1509.4 732.1L1514.2 735.9L1518.9 740.8L1523.7 744.9L1528.4 748.7L1533.2 751.1L1537.9 752.8L1542.7 753.8L1547.4 752.8L1552.2 751.8L1556.9 752.2L1561.7 752.1L1566.4 751.4L1571.2 750.3L1575.9 749.4L1580.7 749.4L1585.4 749.8L1590.2 750.3L1594.9 751.4L1599.7 752.3L1604.4 753.2L1609.2 754.8L1613.9 756.1L1618.7 757.1L1623.4 758.7L1628.2 760.7L1632.9 762.1L1637.7 763.0L1642.4 764.5L1647.2 765.5L1651.9 766.6L1656.7 768.1L1661.4 769.9L1666.2 772.1L1670.9 774.8L1675.7 778.0L1680.4 780.6" stroke="#5b8fe0" stroke-width="3.2" fill="none" stroke-linejoin="round" stroke-linecap="round"/>
<path d="M13.2 513.5L17.9 513.4L22.7 516.1L27.4 513.6L32.2 512.7L36.9 515.2L41.7 517.3L46.4 519.3L51.2 529.3L55.9 537.4L60.7 548.4L65.4 558.6L70.2 569.5L74.9 578.2L79.7 565.6L84.4 569.2L89.2 570.7L93.9 570.8L98.7 568.2L103.4 571.7L108.2 576.6L112.9 586.3L117.7 598.5L122.4 605.7L127.2 610.5L131.9 614.5L136.7 615.3L141.4 615.2L146.2 617.7L150.9 618.8L155.7 621.4L160.4 616.4L165.2 614.9L169.9 615.1L174.7 615.5L179.4 614.0L184.2 612.3L188.9 610.7L193.7 612.1L198.4 613.6L203.2 618.6L207.9 625.4L212.7 631.5L217.4 638.6L222.2 643.6L226.9 651.6L231.7 657.8L236.4 661.7L241.2 664.9L245.9 674.0L250.7 683.2L255.4 694.5L260.1 697.9L264.9 703.4L269.6 706.9L274.4 706.4L279.1 707.1L283.9 707.4L288.6 709.0L293.4 710.5L298.1 712.3L302.9 714.1L307.6 715.0L312.4 716.1L317.1 716.9L321.9 714.1L326.6 711.4L331.4 709.3L336.1 708.0L340.9 706.6L345.6 703.5L350.4 699.5L355.1 697.3L359.9 696.6L364.6 695.3L369.4 694.3L374.1 693.9L378.9 694.4L383.6 695.6L388.4 696.0L393.1 697.3L397.9 692.8L402.6 688.3L407.4 680.4L412.1 676.1L416.9 667.2L421.6 657.9L426.4 650.1L431.1 647.6L435.9 645.3L440.6 644.0L445.4 640.7L450.1 639.0L454.9 638.0L459.6 636.1L464.4 633.3L469.1 634.4L473.9 634.5L478.6 634.3L483.4 634.9L488.1 635.5L492.9 637.1L497.6 639.5L502.4 644.5L507.1 648.2L511.9 651.4L516.6 654.0L521.4 655.0L526.1 657.3L530.9 662.3L535.6 665.1L540.4 667.2L545.1 666.5L549.9 664.5L554.6 663.0L559.4 662.6L564.1 664.5L568.9 667.1L573.6 670.1L578.4 672.1L583.1 671.8L587.9 674.0L592.6 675.6L597.4 677.3L602.1 680.1L606.9 684.2L611.6 689.3L616.4 690.1L621.1 690.0L625.9 690.0L630.6 692.5L635.4 693.5L640.1 693.2L644.9 692.4L649.6 690.9L654.4 691.2L659.1 689.8L663.9 687.9L668.6 687.1L673.4 686.4L678.1 684.4L682.9 682.4L687.6 679.5L692.4 674.2L697.1 665.3L701.9 652.0L706.6 639.4L711.4 625.1L716.1 608.4L720.9 594.1L725.6 577.5L730.4 549.9L735.1 526.2L739.9 504.0L744.6 482.6L749.4 460.1L754.1 439.2L758.9 430.2L763.6 422.8L768.4 416.0L773.1 409.0L777.9 400.6L782.6 395.9L787.4 391.6L792.1 388.5L796.9 387.6L801.6 388.5L806.4 394.6L811.1 395.3L815.9 392.5L820.6 393.1L825.4 392.7L830.1 383.2L834.9 375.5L839.6 370.0L844.4 366.0L849.1 363.8L853.9 357.9L858.6 352.3L863.4 352.6L868.1 352.7L872.9 352.2L877.6 352.2L882.4 353.0L887.1 359.3L891.9 362.5L896.6 368.4L901.4 367.6L906.1 367.6L910.9 368.1L915.6 373.3L920.4 373.8L925.1 375.5L929.9 377.1L934.6 382.7L939.4 387.9L944.1 394.0L948.9 400.1L953.6 402.7L958.4 405.8L963.1 410.1L967.9 413.3L972.6 416.5L977.4 417.5L982.1 416.0L986.9 415.2L991.6 413.4L996.4 410.2L1001.1 405.4L1005.9 400.6L1010.6 398.7L1015.4 397.8L1020.1 395.8L1024.9 392.7L1029.7 390.1L1034.4 389.9L1039.2 390.2L1043.9 390.6L1048.7 394.3L1053.4 398.4L1058.2 399.5L1062.9 405.5L1067.7 410.0L1072.4 413.6L1077.2 415.1L1081.9 416.3L1086.7 418.2L1091.4 417.2L1096.2 413.7L1100.9 410.6L1105.7 409.6L1110.4 408.6L1115.2 407.2L1119.9 409.7L1124.7 411.2L1129.4 414.7L1134.2 430.0L1138.9 443.8L1143.7 452.6L1148.4 458.5L1153.2 466.9L1157.9 477.1L1162.7 489.0L1167.4 500.9L1172.2 510.1L1176.9 517.8L1181.7 521.9L1186.4 527.8L1191.2 534.8L1195.9 540.6L1200.7 542.6L1205.4 542.1L1210.2 540.3L1214.9 539.0L1219.7 538.5L1224.4 539.6L1229.2 543.7L1233.9 545.5L1238.7 547.3L1243.4 548.4L1248.2 555.4L1252.9 565.0L1257.7 569.9L1262.4 578.1L1267.2 582.7L1271.9 588.0L1276.7 590.5L1281.4 588.4L1286.2 590.2L1290.9 592.0L1295.7 595.5L1300.4 600.9L1305.2 606.1L1309.9 611.5L1314.7 617.9L1319.4 622.4L1324.2 629.5L1328.9 639.1L1333.7 649.4L1338.4 658.9L1343.2 665.0L1347.9 665.7L1352.7 667.1L1357.4 667.8L1362.2 669.1L1366.9 670.8L1371.7 671.8L1376.4 674.0L1381.2 679.5L1385.9 681.2L1390.7 681.5L1395.4 684.6L1400.2 689.2L1404.9 693.5L1409.7 697.2L1414.4 699.8L1419.2 701.3L1423.9 704.5L1428.7 707.7L1433.4 711.3L1438.2 714.3L1442.9 718.3L1447.7 724.2L1452.4 728.7L1457.2 734.8L1461.9 742.0L1466.7 745.8L1471.4 748.6L1476.2 751.7L1480.9 754.9L1485.7 758.8L1490.4 762.7L1495.2 767.2L1499.9 771.0L1504.7 773.7L1509.4 776.3L1514.2 779.3L1518.9 781.2L1523.7 784.0L1528.4 785.5L1533.2 783.4L1537.9 781.1L1542.7 777.0L1547.4 766.0L1552.2 757.1L1556.9 752.7L1561.7 749.8L1566.4 748.0L1571.2 746.2L1575.9 745.2L1580.7 744.8L1585.4 741.2L1590.2 738.7L1594.9 738.1L1599.7 737.8L1604.4 737.7L1609.2 739.6L1613.9 741.5L1618.7 745.9L1623.4 748.4L1628.2 751.3L1632.9 754.2L1637.7 757.0L1642.4 761.8L1647.2 764.2L1651.9 766.2L1656.7 768.1L1661.4 772.9L1666.2 779.3L1670.9 787.6L1675.7 796.9L1680.4 804.4" stroke="#5f9a5f" stroke-width="1" fill="none" stroke-linejoin="round"/>
<path d="M27.5 479.8V567.3M41.5 530.5V552.4M46.5 533.5V564.3M55.5 622.0V735.5M74.5 676.8V713.6M79.5 385.3V693.7M89.5 558.4V678.7M93.5 557.4V597.2M98.5 517.6V582.2M122.5 678.8V797.2M127.5 655.9V709.6M131.5 629.0V677.8M136.5 615.1V669.8M141.5 581.2V627.0M150.5 619.0V650.9M160.5 537.5V659.8M179.5 594.2V622.0M184.5 570.3V605.1M212.5 679.0V717.8M222.5 685.0V734.7M231.5 728.7V773.5M236.5 698.9V752.6M241.5 692.9V716.8M260.5 725.8V863.0M269.5 734.7V778.5M274.5 689.9V757.6M283.5 692.0V720.8M307.5 723.8V737.7M317.5 706.9V736.7M321.5 666.1V735.7M326.5 647.2V687.0M340.5 666.1V692.0M345.5 649.2V698.9M350.5 623.3V677.0M364.5 663.1V688.0M388.5 699.9V729.8M397.5 636.3V714.8M402.5 599.5V653.2M407.5 580.6V633.3M416.5 513.9V627.3M421.5 532.8V602.4M445.5 591.5V634.3M459.5 599.5V634.3M464.5 589.5V613.4M473.5 625.3V659.1M478.5 630.3V659.1M488.5 627.3V658.1M507.5 682.0V728.8M511.5 690.0V706.9M516.5 683.0V708.9M521.5 654.2V690.0M535.5 688.0V728.8M540.5 688.0V702.9M545.5 647.2V695.9M549.5 636.3V675.1M578.5 694.0V707.9M583.5 633.3V702.9M592.5 693.3V714.2M616.5 696.3V773.8M621.5 678.4V709.2M635.5 701.2V733.1M640.5 683.3V708.2M644.5 677.4V692.3M649.5 636.6V697.3M659.5 650.5V700.2M663.5 644.5V673.4M678.5 651.5V680.4M687.5 639.6V665.4M692.5 598.8V647.5M697.5 547.9V611.7M701.5 393.7V567.8M706.5 442.4V510.1M711.5 424.5V487.2M716.5 371.8V451.4M725.5 347.0V430.5M730.5 178.6V388.7M739.5 202.5V252.2M744.5 175.6V239.3M749.5 140.8V231.3M754.5 167.7V227.4M773.5 303.0V343.7M777.5 290.0V325.8M787.5 314.9V364.6M811.5 398.7V487.2M815.5 350.7V409.6M825.5 377.8V421.6M830.5 260.2V397.7M853.5 269.1V345.7M858.5 258.9V308.6M872.5 326.5V357.4M891.5 389.2V452.9M901.5 345.4V465.8M920.5 354.4V441.9M953.5 435.9V478.7M967.5 428.0V467.8M977.5 411.1V456.8M982.5 386.2V435.9M991.5 381.2V409.1M996.5 366.3V402.1M1001.5 333.5V377.3M1005.5 314.6V350.4M1020.5 363.3V397.2M1024.5 344.4V389.2M1058.5 386.6V463.2M1067.5 456.3V497.0M1072.5 449.3V473.2M1077.5 433.4V471.2M1081.5 411.5V442.3M1091.5 399.6V453.3M1096.5 346.9V405.5M1110.5 357.8V404.5M1115.5 365.8V401.6M1124.5 413.5V447.3M1138.5 570.5V645.1M1143.5 541.7V641.1M1148.5 516.8V566.5M1172.5 612.3V650.1M1176.5 602.3V639.1M1181.5 552.6V626.2M1195.5 600.4V623.2M1200.5 566.5V613.3M1205.5 513.8V570.5M1210.5 510.8V538.7M1233.5 552.6V597.4M1243.5 551.8V579.7M1257.5 617.5V719.9M1267.5 620.5V701.0M1276.5 611.5V669.2M1281.5 542.9V629.4M1319.5 669.2V717.9M1338.5 772.1V800.9M1343.5 728.3V778.0M1347.5 651.7V750.2M1357.5 664.7V704.4M1371.5 676.6V696.5M1385.5 690.5V760.1M1390.5 677.6V705.4M1409.5 718.4V762.1M1414.5 713.4V747.2M1419.5 693.5V735.3M1438.5 741.2V757.1M1452.5 779.0V813.8M1466.5 789.9V843.7M1471.5 775.0V797.9M1499.5 802.9V824.8M1504.5 804.9V818.8M1518.5 801.9V816.8M1528.5 803.9V824.8M1533.5 750.2V808.8M1537.5 738.2V764.1M1542.5 714.4V754.1M1547.5 620.7V726.3M1585.5 690.5V740.2M1623.5 762.8V807.5M1647.5 779.7V821.5M1651.5 785.6V806.5M1680.5 889.1V933.8" stroke="#22695f" stroke-width="1" fill="none"/>
<path d="M13.5 457.9V499.7M17.5 472.8V531.5M22.5 507.6V583.2M32.5 478.8V507.6M36.5 491.7V568.3M51.5 530.5V671.7M60.5 635.9V702.7M65.5 662.9V704.7M70.5 684.8V777.3M84.5 396.8V646.9M103.5 525.5V630.0M108.5 606.1V645.9M112.5 636.9V727.5M117.5 661.9V761.3M146.5 605.1V658.8M155.5 631.0V675.7M165.5 548.4V613.1M169.5 585.2V626.0M174.5 603.1V624.0M188.5 580.2V601.1M193.5 580.2V635.9M198.5 613.4V645.2M203.5 631.3V700.9M207.5 675.1V736.7M217.5 704.9V750.6M226.5 672.1V764.5M245.5 699.9V810.3M250.5 755.6V905.0M255.5 769.5V842.1M264.5 737.7V788.4M279.5 667.1V728.7M288.5 690.0V728.7M293.5 710.9V745.7M298.5 716.8V739.7M302.5 725.8V742.7M312.5 723.8V744.7M331.5 671.1V715.8M336.5 677.0V697.9M355.5 642.2V672.1M359.5 663.1V711.9M369.5 669.1V687.0M374.5 677.0V691.0M378.5 677.0V701.9M383.5 686.0V718.8M393.5 695.9V720.8M412.5 578.6V635.3M426.5 514.9V564.7M431.5 545.8V626.3M435.5 595.5V628.3M440.5 614.4V647.2M450.5 594.5V653.2M454.5 606.4V641.2M469.5 580.6V652.2M483.5 625.3V648.2M492.5 639.2V674.1M497.5 642.2V671.1M502.5 665.1V710.9M526.5 660.1V686.0M530.5 675.1V736.7M554.5 637.3V661.1M559.5 633.3V664.1M564.5 657.2V695.9M568.5 687.0V726.8M573.5 692.0V718.8M587.5 663.4V705.2M597.5 690.3V703.2M602.5 693.3V726.1M606.5 705.2V758.9M611.5 727.1V793.7M625.5 673.4V695.3M630.5 680.4V724.1M654.5 664.4V703.2M668.5 659.5V685.3M673.5 672.4V683.3M682.5 627.6V663.4M720.5 399.7V457.4M735.5 136.9V255.2M758.5 177.6V376.8M763.5 285.1V400.7M768.5 323.8V384.8M782.5 261.2V343.7M792.5 323.8V383.8M796.5 317.9V380.8M801.5 362.9V424.5M806.5 376.8V483.2M820.5 344.7V415.6M834.5 240.3V307.9M839.5 253.2V306.9M844.5 280.1V327.8M849.5 259.2V340.8M863.5 252.9V387.2M868.5 331.5V383.2M877.5 330.5V355.4M882.5 348.4V403.1M887.5 354.4V439.9M896.5 400.1V443.9M906.5 356.4V395.2M910.5 337.5V389.2M915.5 369.3V450.9M925.5 368.3V399.1M929.5 375.3V406.1M934.5 393.2V469.8M939.5 446.9V473.7M944.5 434.0V470.8M948.5 444.9V497.6M958.5 427.0V455.8M963.5 435.9V465.8M972.5 448.9V461.8M986.5 371.3V410.1M1010.5 337.5V376.3M1015.5 360.4V401.1M1029.5 332.5V363.3M1034.5 349.4V390.2M1039.5 381.2V397.2M1043.5 380.2V402.1M1048.5 393.6V497.0M1053.5 424.4V459.2M1062.5 406.5V487.1M1086.5 419.5V454.3M1100.5 348.8V382.7M1105.5 365.8V406.5M1119.5 384.7V440.4M1129.5 429.4V469.2M1134.5 449.3V1038.7M1153.5 527.7V613.3M1157.5 553.6V618.3M1162.5 585.4V652.1M1167.5 610.3V687.9M1186.5 560.6V607.3M1191.5 596.4V636.2M1214.5 497.9V532.7M1219.5 500.9V546.6M1224.5 510.8V557.6M1229.5 536.7V617.3M1238.5 562.8V580.7M1248.5 559.8V660.2M1252.5 622.4V734.8M1262.5 604.5V691.1M1271.5 633.4V668.2M1286.5 545.9V617.5M1290.5 591.6V640.4M1295.5 561.8V655.3M1300.5 631.4V674.2M1305.5 646.3V679.1M1309.5 655.3V700.0M1314.5 644.3V715.9M1324.5 677.2V748.8M1328.5 703.4V769.1M1333.5 748.2V826.8M1352.5 659.7V703.4M1362.5 671.6V694.5M1366.5 656.7V700.5M1376.5 679.6V701.5M1381.5 699.5V765.1M1395.5 679.6V733.3M1400.5 717.4V754.2M1404.5 741.2V753.2M1423.5 719.4V745.2M1428.5 738.2V767.1M1433.5 742.2V770.1M1442.5 748.2V776.0M1447.5 754.1V806.9M1457.5 764.1V815.8M1461.5 784.0V832.7M1476.5 777.0V797.9M1480.5 778.0V798.9M1485.5 792.9V809.8M1490.5 801.9V818.8M1495.5 800.9V823.8M1509.5 804.9V812.8M1514.5 789.9V816.8M1523.5 802.9V829.7M1552.5 602.6V682.6M1556.5 638.8V702.4M1561.5 688.5V734.2M1566.5 699.4V732.3M1571.5 718.3V728.3M1575.5 718.3V738.2M1580.5 718.3V745.2M1590.5 686.5V717.3M1594.5 706.4V737.2M1599.5 725.3V749.2M1604.5 728.3V741.2M1609.5 733.3V764.1M1613.5 748.2V816.8M1618.5 762.8V807.5M1628.5 770.7V795.6M1632.5 771.7V801.6M1637.5 787.6V792.6M1642.5 790.6V829.4M1656.5 780.7V798.6M1661.5 791.6V842.3M1666.5 830.4V867.2M1670.5 851.3V944.8M1675.5 879.1V926.9" stroke="#a3404c" stroke-width="1" fill="none"/>
<path d="M26 482.8H29V549.4H26ZM40 544.4H43V545.4H40ZM45 543.4H48V544.4H45ZM54 638.9H57V654.8H54ZM73 687.7H76V705.6H73ZM78 406.9H81V687.7H78ZM88 589.2H91V615.1H88ZM92 572.3H95V589.2H92ZM97 535.5H100V572.3H97ZM121 695.7H124V751.4H121ZM126 669.8H129V695.7H126ZM130 664.9H133V669.8H130ZM135 626.0H138V664.9H135ZM140 613.1H143V626.0H140ZM149 633.0H152V648.9H149ZM159 554.4H162V653.8H159ZM178 595.2H181V620.0H178ZM183 591.2H186V595.2H183ZM211 708.2H214V709.4H211ZM221 706.9H224V726.7H221ZM230 734.7H233V751.6H230ZM235 710.8H238V734.7H235ZM240 704.9H243V710.8H240ZM259 739.7H262V836.2H259ZM268 750.6H271V772.5H268ZM273 699.9H276V750.6H273ZM282 711.9H285V715.8H282ZM306 726.8H309V736.7H306ZM316 726.8H319V729.8H316ZM320 679.0H323V726.8H320ZM325 678.0H328V679.0H325ZM339 689.0H342V692.0H339ZM344 665.1H347V689.0H344ZM349 649.2H352V665.1H349ZM363 680.0H366V687.0H363ZM387 700.9H390V710.9H387ZM396 637.3H399V712.9H396ZM401 631.3H404V637.3H401ZM406 581.6H409V631.3H406ZM415 556.7H418V622.3H415ZM420 540.8H423V556.7H420ZM444 599.5H447V627.3H444ZM458 611.4H461V626.3H458ZM463 598.5H466V611.4H463ZM472 636.3H475V648.2H472ZM477 631.3H480V636.3H477ZM487 642.2H490V643.2H487ZM506 694.0H509V707.9H506ZM510 692.0H513V694.0H510ZM515 686.0H518V692.0H515ZM520 668.1H523V686.0H520ZM534 699.9H537V725.8H534ZM539 693.0H542V699.9H539ZM544 658.1H547V693.0H544ZM548 639.2H551V658.1H548ZM577 696.9H580V707.9H577ZM582 669.1H585V696.9H582ZM591 696.3H594V700.2H591ZM615 700.2H618V753.0H615ZM620 688.3H623V700.2H620ZM634 706.2H637V723.1H634ZM639 690.3H642V706.2H639ZM643 682.3H646V690.3H643ZM648 671.4H651V682.3H648ZM658 672.4H661V695.3H658ZM662 663.4H665V672.4H662ZM677 658.5H680V678.4H677ZM686 643.5H689V658.1H686ZM691 607.7H694V643.5H691ZM696 553.8H699V607.7H696ZM700 485.2H703V553.8H700ZM705 482.8H708V485.2H705ZM710 446.4H713V482.8H710ZM715 399.7H718V446.4H715ZM724 369.8H727V415.6H724ZM729 204.5H732V369.8H729ZM738 226.4H741V230.4H738ZM743 215.4H746V226.4H743ZM748 178.6H751V215.4H748ZM753 177.9H756V178.9H753ZM772 321.9H775V330.8H772ZM776 295.0H779V321.9H776ZM786 337.3H789V338.3H786ZM810 403.7H813V471.3H810ZM814 357.9H817V403.7H814ZM824 387.7H827V399.7H824ZM829 265.2H832V387.7H829ZM852 284.1H855V336.8H852ZM857 282.8H860V284.1H857ZM871 345.4H874V355.0H871ZM890 403.1H893V437.9H890ZM900 357.4H903V441.9H900ZM919 380.2H922V437.9H919ZM952 435.9H955V475.7H952ZM966 453.8H969V463.8H966ZM976 431.0H979V455.8H976ZM981 396.2H984V431.0H981ZM990 391.2H993V405.1H990ZM995 370.3H998V391.2H995ZM1000 345.4H1003V370.3H1000ZM1004 340.5H1007V345.4H1004ZM1019 371.3H1022V386.2H1019ZM1023 353.4H1026V371.3H1023ZM1057 412.5H1060V450.3H1057ZM1066 466.2H1069V481.1H1066ZM1071 458.3H1074V466.2H1071ZM1076 434.4H1079V458.3H1076ZM1080 430.4H1083V434.4H1080ZM1090 404.5H1093V442.3H1090ZM1095 370.7H1098V404.5H1095ZM1109 396.2H1112V397.6H1109ZM1114 389.6H1117V396.2H1114ZM1123 430.4H1126V440.4H1123ZM1137 616.3H1140V621.2H1137ZM1142 561.6H1145V616.3H1142ZM1147 532.7H1150V561.6H1147ZM1171 625.2H1174V650.1H1171ZM1175 613.3H1178V625.2H1175ZM1180 573.5H1183V613.3H1180ZM1194 612.3H1197V623.2H1194ZM1199 567.5H1202V612.3H1199ZM1204 536.7H1207V567.5H1204ZM1209 516.8H1212V536.7H1209ZM1232 568.5H1235V595.4H1232ZM1242 561.8H1245V569.7H1242ZM1256 631.4H1259V684.1H1256ZM1266 640.4H1269V681.1H1266ZM1275 622.4H1278V653.3H1275ZM1280 561.8H1283V622.4H1280ZM1318 678.1H1321V698.0H1318ZM1337 777.5H1340V778.5H1337ZM1342 741.2H1345V778.0H1342ZM1346 674.6H1349V741.2H1346ZM1356 675.6H1359V684.5H1356ZM1370 684.5H1373V692.5H1370ZM1384 702.4H1387V748.2H1384ZM1389 684.5H1392V702.4H1389ZM1408 743.2H1411V747.6H1408ZM1413 732.3H1416V743.2H1413ZM1418 720.4H1421V732.3H1418ZM1437 751.2H1440V757.1H1437ZM1451 786.0H1454V797.9H1451ZM1465 792.9H1468V831.7H1465ZM1470 784.0H1473V792.9H1470ZM1498 818.8H1501V822.8H1498ZM1503 806.9H1506V818.8H1503ZM1517 804.9H1520V815.8H1517ZM1527 803.9H1530V819.8H1527ZM1532 757.1H1535V803.9H1532ZM1536 753.1H1539V757.1H1536ZM1541 725.3H1544V753.1H1541ZM1546 628.7H1549V725.3H1546ZM1584 697.4H1587V739.2H1584ZM1622 778.7H1625V801.6H1622ZM1646 794.6H1649V821.5H1646ZM1650 790.6H1653V794.6H1650ZM1679 898.0H1682V913.0H1679Z" fill="#17917c"/>
<path d="M12 473.8H15V487.7H12ZM16 487.7H19V512.6H16ZM21 512.6H24V549.4H21ZM31 482.8H34V501.7H31ZM35 501.7H38V545.4H35ZM50 543.4H53V654.8H50ZM59 638.9H62V685.8H59ZM64 685.3H67V686.3H64ZM69 685.8H72V705.6H69ZM83 406.9H86V615.1H83ZM102 535.5H105V615.1H102ZM107 615.1H110V637.9H107ZM111 637.9H114V707.6H111ZM116 707.6H119V751.4H116ZM145 613.1H148V648.9H145ZM154 633.0H157V653.8H154ZM164 554.4H167V596.2H164ZM168 596.2H171V617.0H168ZM173 617.0H176V620.0H173ZM187 590.7H190V591.7H187ZM192 591.2H195V629.0H192ZM197 629.0H200V632.3H197ZM202 632.3H205V682.0H202ZM206 682.0H209V709.4H206ZM216 708.2H219V726.7H216ZM225 706.9H228V751.6H225ZM244 704.9H247V788.4H244ZM249 788.4H252V797.4H249ZM254 797.4H257V836.2H254ZM263 739.7H266V772.5H263ZM278 699.9H281V715.8H278ZM287 711.9H290V728.7H287ZM292 728.3H295V729.3H292ZM297 728.8H300V734.7H297ZM301 734.7H304V736.7H301ZM311 726.8H314V729.8H311ZM330 678.0H333V683.0H330ZM335 683.0H338V692.0H335ZM354 649.2H357V670.1H354ZM358 670.1H361V687.0H358ZM368 680.0H371V681.0H368ZM373 681.0H376V689.0H373ZM377 689.0H380V700.9H377ZM382 700.9H385V710.9H382ZM392 700.9H395V712.9H392ZM411 581.6H414V622.3H411ZM425 540.8H428V553.7H425ZM430 553.7H433V615.4H430ZM434 615.4H437V617.4H434ZM439 617.4H442V627.3H439ZM449 599.5H452V617.4H449ZM453 617.4H456V626.3H453ZM468 598.5H471V648.2H468ZM482 631.3H485V643.2H482ZM491 642.2H494V657.2H491ZM496 657.2H499V669.1H496ZM501 669.1H504V707.9H501ZM525 668.1H528V685.0H525ZM529 685.0H532V725.8H529ZM553 639.2H556V644.2H553ZM558 644.2H561V658.1H558ZM563 658.1H566V688.0H563ZM567 688.0H570V698.9H567ZM572 698.9H575V707.9H572ZM586 669.1H589V700.2H586ZM596 696.3H599V697.9H596ZM601 697.9H604V715.2H601ZM605 715.2H608V736.0H605ZM610 736.0H613V753.0H610ZM624 688.3H627V690.3H624ZM629 690.3H632V723.1H629ZM653 671.4H656V695.3H653ZM667 663.4H670V677.4H667ZM672 677.4H675V678.4H672ZM681 657.8H684V658.8H681ZM719 399.7H722V415.6H719ZM734 204.5H737V230.4H734ZM757 178.2H760V316.9H757ZM762 316.9H765V330.8H762ZM767 330.3H770V331.3H767ZM781 295.0H784V337.8H781ZM791 337.8H794V349.0H791ZM795 349.0H798V376.8H795ZM800 376.8H803V399.7H800ZM805 399.7H808V471.3H805ZM819 357.9H822V399.7H819ZM833 265.2H836V279.1H833ZM838 279.1H841V301.0H838ZM843 301.0H846V315.9H843ZM848 315.9H851V336.8H848ZM862 282.8H865V355.4H862ZM867 354.7H870V355.7H867ZM876 345.4H879V352.4H876ZM881 352.4H884V362.3H881ZM886 362.3H889V437.9H886ZM895 403.1H898V441.9H895ZM905 357.4H908V367.3H905ZM909 367.3H912V375.3H909ZM914 375.3H917V437.9H914ZM924 380.2H927V397.2H924ZM928 396.5H931V397.5H928ZM933 396.8H936V452.9H933ZM938 452.2H941V453.2H938ZM943 452.5H946V470.8H943ZM947 470.8H950V475.7H947ZM957 435.9H960V443.9H957ZM962 443.9H965V463.8H962ZM971 453.8H974V455.8H971ZM985 396.2H988V405.1H985ZM1009 340.5H1012V375.3H1009ZM1014 375.3H1017V386.2H1014ZM1028 353.4H1031V357.4H1028ZM1033 357.4H1036V388.2H1033ZM1038 388.2H1041V394.2H1038ZM1042 394.2H1045V395.2H1042ZM1047 395.2H1050V440.4H1047ZM1052 440.4H1055V450.3H1052ZM1061 412.5H1064V481.1H1061ZM1085 430.4H1088V442.3H1085ZM1099 370.2H1102V371.2H1099ZM1104 370.7H1107V397.6H1104ZM1118 389.6H1121V440.4H1118ZM1128 430.4H1131V459.2H1128ZM1133 459.2H1136V621.2H1133ZM1152 532.7H1155V571.5H1152ZM1156 571.5H1159V605.3H1156ZM1161 605.3H1164V637.2H1161ZM1166 637.2H1169V650.1H1166ZM1185 573.5H1188V601.3H1185ZM1190 601.3H1193V623.2H1190ZM1213 516.8H1216V522.8H1213ZM1218 522.8H1221V532.7H1218ZM1223 532.7H1226V552.6H1223ZM1228 552.6H1231V595.4H1228ZM1237 568.5H1240V569.7H1237ZM1247 561.8H1250V643.3H1247ZM1251 643.3H1254V684.1H1251ZM1261 631.4H1264V681.1H1261ZM1270 640.4H1273V653.3H1270ZM1285 561.8H1288V613.5H1285ZM1289 613.0H1292V614.0H1289ZM1294 613.5H1297V639.4H1294ZM1299 639.4H1302V668.2H1299ZM1304 668.2H1307V671.2H1304ZM1308 671.2H1311V679.1H1308ZM1313 679.1H1316V698.0H1313ZM1323 678.1H1326V718.9H1323ZM1327 718.9H1330V759.1H1327ZM1332 759.1H1335V778.0H1332ZM1351 674.6H1354V684.5H1351ZM1361 675.6H1364V685.5H1361ZM1365 685.5H1368V692.5H1365ZM1375 684.5H1378V701.5H1375ZM1380 701.5H1383V748.2H1380ZM1394 684.5H1397V723.3H1394ZM1399 723.3H1402V747.2H1399ZM1403 746.9H1406V747.9H1403ZM1422 720.4H1425V744.2H1422ZM1427 744.2H1430V747.2H1427ZM1432 747.2H1435V757.1H1432ZM1441 751.2H1444V768.1H1441ZM1446 768.1H1449V797.9H1446ZM1456 786.0H1459V810.8H1456ZM1460 810.8H1463V831.7H1460ZM1475 784.0H1478V789.9H1475ZM1479 789.9H1482V794.9H1479ZM1484 794.9H1487V807.9H1484ZM1489 807.9H1492V811.8H1489ZM1494 811.8H1497V822.8H1494ZM1508 806.9H1511V809.8H1508ZM1513 809.8H1516V815.8H1513ZM1522 804.9H1525V819.8H1522ZM1551 628.7H1554V645.6H1551ZM1555 645.6H1558V697.4H1555ZM1560 697.4H1563V714.4H1560ZM1565 714.4H1568V724.3H1565ZM1570 724.0H1573V725.0H1570ZM1574 724.7H1577V732.3H1574ZM1579 732.3H1582V739.2H1579ZM1589 697.4H1592V707.4H1589ZM1593 707.4H1596V730.3H1593ZM1598 730.3H1601V734.2H1598ZM1603 734.2H1606V736.2H1603ZM1608 736.2H1611V763.1H1608ZM1612 763.1H1615V765.1H1612ZM1617 765.1H1620V801.6H1617ZM1627 778.7H1630V788.6H1627ZM1631 788.6H1634V790.6H1631ZM1636 790.6H1639V791.6H1636ZM1641 791.6H1644V821.5H1641ZM1655 790.6H1658V792.6H1655ZM1660 792.6H1663V832.4H1660ZM1665 832.4H1668V859.2H1665ZM1669 859.2H1672V892.1H1669ZM1674 892.1H1677V913.0H1674Z" fill="#dc3f4e"/>
<path d="M10 898.5H2042" stroke="#1d8070" stroke-width="1" stroke-dasharray="1 2"/>
</g>
<text x="2052.5" y="1100.6" font-size="12" fill="#131722" textLength="35" lengthAdjust="spacingAndGlyphs">1.1000</text>
<text x="2052.5" y="1063.1" font-size="12" fill="#131722" textLength="35" lengthAdjust="spacingAndGlyphs">1.2000</text>
<text x="2052.5" y="1025.7" font-size="12" fill="#131722" textLength="35" lengthAdjust="spacingAndGlyphs">1.3000</text>
<text x="2052.5" y="988.2" font-size="12" fill="#131722" textLength="35" lengthAdjust="spacingAndGlyphs">1.4000</text>
<text x="2052.5" y="950.7" font-size="12" fill="#131722" textLength="35" lengthAdjust="spacingAndGlyphs">1.5000</text>
<text x="2052.5" y="913.3" font-size="12" fill="#131722" textLength="35" lengthAdjust="spacingAndGlyphs">1.6000</text>
<text x="2052.5" y="875.8" font-size="12" fill="#131722" textLength="35" lengthAdjust="spacingAndGlyphs">1.7000</text>
<text x="2052.5" y="838.4" font-size="12" fill="#131722" textLength="35" lengthAdjust="spacingAndGlyphs">1.8000</text>
<text x="2052.5" y="800.9" font-size="12" fill="#131722" textLength="35" lengthAdjust="spacingAndGlyphs">1.9000</text>
<text x="2052.5" y="763.4" font-size="12" fill="#131722" textLength="35" lengthAdjust="spacingAndGlyphs">2.0000</text>
<text x="2052.5" y="726.0" font-size="12" fill="#131722" textLength="35" lengthAdjust="spacingAndGlyphs">2.1000</text>
<text x="2052.5" y="688.5" font-size="12" fill="#131722" textLength="35" lengthAdjust="spacingAndGlyphs">2.2000</text>
<text x="2052.5" y="651.1" font-size="12" fill="#131722" textLength="35" lengthAdjust="spacingAndGlyphs">2.3000</text>
<text x="2052.5" y="613.6" font-size="12" fill="#131722" textLength="35" lengthAdjust="spacingAndGlyphs">2.4000</text>
<text x="2052.5" y="576.1" font-size="12" fill="#131722" textLength="35" lengthAdjust="spacingAndGlyphs">2.5000</text>
<text x="2052.5" y="538.7" font-size="12" fill="#131722" textLength="35" lengthAdjust="spacingAndGlyphs">2.6000</text>
<text x="2052.5" y="501.2" font-size="12" fill="#131722" textLength="35" lengthAdjust="spacingAndGlyphs">2.7000</text>
<text x="2052.5" y="463.8" font-size="12" fill="#131722" textLength="35" lengthAdjust="spacingAndGlyphs">2.8000</text>
<text x="2052.5" y="426.3" font-size="12" fill="#131722" textLength="35" lengthAdjust="spacingAndGlyphs">2.9000</text>
<text x="2052.5" y="388.8" font-size="12" fill="#131722" textLength="35" lengthAdjust="spacingAndGlyphs">3.0000</text>
<text x="2052.5" y="351.4" font-size="12" fill="#131722" textLength="35" lengthAdjust="spacingAndGlyphs">3.1000</text>
<text x="2052.5" y="313.9" font-size="12" fill="#131722" textLength="35" lengthAdjust="spacingAndGlyphs">3.2000</text>
<text x="2052.5" y="276.5" font-size="12" fill="#131722" textLength="35" lengthAdjust="spacingAndGlyphs">3.3000</text>
<text x="2052.5" y="239.0" font-size="12" fill="#131722" textLength="35" lengthAdjust="spacingAndGlyphs">3.4000</text>
<text x="2052.5" y="201.5" font-size="12" fill="#131722" textLength="35" lengthAdjust="spacingAndGlyphs">3.5000</text>
<text x="2052.5" y="164.1" font-size="12" fill="#131722" textLength="35" lengthAdjust="spacingAndGlyphs">3.6000</text>
<text x="2052.5" y="126.6" font-size="12" fill="#131722" textLength="35" lengthAdjust="spacingAndGlyphs">3.7000</text>
<text x="2052.5" y="89.2" font-size="12" fill="#131722" textLength="35" lengthAdjust="spacingAndGlyphs">3.8000</text>
<text x="2052.5" y="51.7" font-size="12" fill="#131722" textLength="35" lengthAdjust="spacingAndGlyphs">3.9000</text>
<rect x="2044" y="656.8" width="49" height="17" rx="2" fill="#000000"/>
<text x="2068.5" y="669.6" font-size="12" fill="#ffffff" text-anchor="middle">2.2504</text>
<rect x="2044" y="712.5" width="49" height="17" rx="2" fill="#f7931a"/>
<text x="2068.5" y="725.3" font-size="12" fill="#131722" text-anchor="middle">2.1016</text>
<rect x="2044" y="771.5" width="49" height="17" rx="2" fill="#5b9cf6"/>
<text x="2068.5" y="784.3" font-size="12" fill="#131722" text-anchor="middle">1.9441</text>
<rect x="2044" y="795.3" width="49" height="17" rx="2" fill="#0b7d1a"/>
<text x="2068.5" y="808.1" font-size="12" fill="#ffffff" text-anchor="middle">1.8806</text>
<rect x="1986" y="890" width="57" height="16" rx="2" fill="#089981"/>
<text x="2014.5" y="902.3" font-size="12" fill="#ffffff" text-anchor="middle" font-weight="bold" textLength="47" lengthAdjust="spacingAndGlyphs">XRPUSDT</text>
<rect x="2044" y="890" width="60" height="30" rx="2" fill="#089981"/>
<text x="2052" y="902.3" font-size="12" fill="#ffffff" font-weight="bold">1.6296</text>
<text x="2052" y="916.5" font-size="12" fill="#ffffff">09:00:23</text>
<rect x="2044" y="1064" width="60" height="16.5" rx="2" fill="#26a69a"/>
<text x="2074" y="1076.5" font-size="12" fill="#ffffff" text-anchor="middle" font-weight="bold">172.38 M</text>
<text x="18" y="46.3" font-size="12" xml:space="preserve" textLength="460.5" lengthAdjust="spacingAndGlyphs"><tspan fill="#131722">XRP / TetherUS · 1D · Binance  </tspan><tspan fill="#131722">O</tspan><tspan fill="#089981">1.5908</tspan><tspan fill="#131722">  H</tspan><tspan fill="#089981">1.6554</tspan><tspan fill="#131722">  L</tspan><tspan fill="#089981">1.5307</tspan><tspan fill="#131722">  C</tspan><tspan fill="#089981">1.6296</tspan><tspan fill="#089981">  +0.0388 (+2.44%)</tspan></text>
<text x="18" y="63.3" font-size="12" xml:space="preserve" textLength="102" lengthAdjust="spacingAndGlyphs"><tspan fill="#131722">Vol · XRP  </tspan><tspan fill="#26a69a">172.38 M</tspan></text>
<text x="18" y="80.3" font-size="12" xml:space="preserve" textLength="238" lengthAdjust="spacingAndGlyphs"><tspan fill="#131722">EMAs_Editor  </tspan><tspan fill="#2e8b30">1.8806</tspan><tspan fill="#000000">  2.2504</tspan><tspan fill="#5b9cf6">  1.9441</tspan><tspan fill="#f5a623">  2.1016</tspan></text>
<rect x="10" y="1160.1" width="2032" height="46.2" fill="#7e57c2" fill-opacity="0.1"/>
<g clip-path="url(#rsic)">
<clipPath id="obc"><rect x="10" y="1120" width="2032" height="40.1"/></clipPath>
<clipPath id="osc"><rect x="10" y="1206.3" width="2032" height="20"/></clipPath>
<path d="M13.2 1179.2L17.9 1181.1L22.7 1183.9L27.4 1179.1L32.2 1180.6L36.9 1184.1L41.7 1184.0L46.4 1184.0L51.2 1192.9L55.9 1191.3L60.7 1194.7L65.4 1194.7L70.2 1196.3L74.9 1194.1L79.7 1170.5L84.4 1185.6L89.2 1184.0L93.9 1182.8L98.7 1180.3L103.4 1185.9L108.2 1187.4L112.9 1191.9L117.7 1194.5L122.4 1189.8L127.2 1187.7L131.9 1187.3L136.7 1183.9L141.4 1182.8L146.2 1185.9L150.9 1184.4L155.7 1186.3L160.4 1177.3L165.2 1181.3L169.9 1183.3L174.7 1183.5L179.4 1181.0L184.2 1180.6L188.9 1180.6L193.7 1185.2L198.4 1185.6L203.2 1191.2L207.9 1194.1L212.7 1193.9L217.4 1195.9L222.2 1192.6L226.9 1197.6L231.7 1194.7L236.4 1190.7L241.2 1189.7L245.9 1199.3L250.7 1200.2L255.4 1203.8L260.1 1188.6L264.9 1192.1L269.6 1189.1L274.4 1182.6L279.1 1184.5L283.9 1184.0L288.6 1186.2L293.4 1186.2L298.1 1187.1L302.9 1187.4L307.6 1185.6L312.4 1186.1L317.1 1185.5L321.9 1176.7L326.6 1176.5L331.4 1177.6L336.1 1179.7L340.9 1179.0L345.6 1174.2L350.4 1171.2L355.1 1176.7L359.9 1180.9L364.6 1179.4L369.4 1179.6L374.1 1181.8L378.9 1185.0L383.6 1187.6L388.4 1184.7L393.1 1187.9L397.9 1170.2L402.6 1169.1L407.4 1161.5L412.1 1172.1L416.9 1163.3L421.6 1161.5L426.4 1164.7L431.1 1177.5L435.9 1177.9L440.6 1179.8L445.4 1175.2L450.1 1178.8L454.9 1180.6L459.6 1177.9L464.4 1175.6L469.1 1185.6L473.9 1183.3L478.6 1182.4L483.4 1184.8L488.1 1184.6L492.9 1187.8L497.6 1190.3L502.4 1197.4L507.1 1193.7L511.9 1193.2L516.6 1191.5L521.4 1186.6L526.1 1190.4L530.9 1198.2L535.6 1191.3L540.4 1189.5L545.1 1181.4L549.9 1177.5L554.6 1178.8L559.4 1182.2L564.1 1188.7L568.9 1190.9L573.6 1192.7L578.4 1189.7L583.1 1182.6L587.9 1189.5L592.6 1188.4L597.4 1188.8L602.1 1192.6L606.9 1196.9L611.6 1200.0L616.4 1185.7L621.1 1183.0L625.9 1183.4L630.6 1190.6L635.4 1186.4L640.1 1182.6L644.9 1180.8L649.6 1178.3L654.4 1184.3L659.1 1179.0L663.9 1177.1L668.6 1180.8L673.4 1181.0L678.1 1176.2L682.9 1176.1L687.6 1172.6L692.4 1165.3L697.1 1157.4L701.9 1150.5L706.6 1150.3L711.4 1147.4L716.1 1144.3L720.9 1149.0L725.6 1145.9L730.4 1139.0L735.1 1144.5L739.9 1144.3L744.6 1143.8L749.4 1142.3L754.1 1142.3L758.9 1168.8L763.6 1170.8L768.4 1170.8L773.1 1169.9L777.9 1167.1L782.6 1174.3L787.4 1174.3L792.1 1176.2L796.9 1180.8L801.6 1184.4L806.4 1193.8L811.1 1183.9L815.9 1178.3L820.6 1183.7L825.4 1182.2L830.1 1169.6L834.9 1171.5L839.6 1174.5L844.4 1176.5L849.1 1179.3L853.9 1173.6L858.6 1173.4L863.4 1183.2L868.1 1183.2L872.9 1181.9L877.6 1182.9L882.4 1184.4L887.1 1194.0L891.9 1188.7L896.6 1193.1L901.4 1181.8L906.1 1183.1L910.9 1184.1L915.6 1191.4L920.4 1183.9L925.1 1185.9L929.9 1185.9L934.6 1192.3L939.4 1192.3L944.1 1194.4L948.9 1194.9L953.6 1188.3L958.4 1189.3L963.1 1192.0L967.9 1190.2L972.6 1190.5L977.4 1185.8L982.1 1179.8L986.9 1181.5L991.6 1179.1L996.4 1175.6L1001.1 1171.8L1005.9 1171.0L1010.6 1178.6L1015.4 1180.8L1020.1 1178.1L1024.9 1174.9L1029.7 1175.9L1034.4 1182.8L1039.2 1184.0L1043.9 1184.2L1048.7 1193.3L1053.4 1195.0L1058.2 1186.0L1062.9 1197.1L1067.7 1193.9L1072.4 1192.1L1077.2 1187.1L1081.9 1186.3L1086.7 1188.5L1091.4 1180.7L1096.2 1174.8L1100.9 1174.8L1105.7 1180.7L1110.4 1180.5L1115.2 1179.1L1119.9 1189.6L1124.7 1187.4L1129.4 1192.6L1134.2 1210.6L1138.9 1209.6L1143.7 1199.0L1148.4 1194.1L1153.2 1198.2L1157.9 1201.5L1162.7 1204.3L1167.4 1205.4L1172.2 1200.7L1176.9 1198.5L1181.7 1191.4L1186.4 1194.8L1191.2 1197.3L1195.9 1195.2L1200.7 1187.5L1205.4 1182.7L1210.2 1179.9L1214.9 1180.8L1219.7 1182.5L1224.4 1185.8L1229.2 1192.2L1233.9 1187.4L1238.7 1187.6L1243.4 1186.0L1248.2 1197.7L1252.9 1202.1L1257.7 1192.6L1262.4 1198.0L1267.2 1191.4L1271.9 1192.9L1276.7 1188.1L1281.4 1179.9L1286.2 1186.4L1290.9 1186.4L1295.7 1189.7L1300.4 1193.0L1305.2 1193.4L1309.9 1194.4L1314.7 1196.7L1319.4 1192.9L1324.2 1198.0L1328.9 1202.3L1333.7 1204.2L1338.4 1204.2L1343.2 1196.4L1347.9 1184.9L1352.7 1186.3L1357.4 1184.9L1362.2 1186.4L1366.9 1187.6L1371.7 1186.0L1376.4 1189.0L1381.2 1196.1L1385.9 1187.2L1390.7 1184.1L1395.4 1190.1L1400.2 1193.4L1404.9 1193.5L1409.7 1192.5L1414.4 1190.1L1419.2 1187.5L1423.9 1191.8L1428.7 1192.3L1433.4 1194.1L1438.2 1192.5L1442.9 1195.7L1447.7 1200.8L1452.4 1197.3L1457.2 1201.4L1461.9 1204.5L1466.7 1193.8L1471.4 1191.6L1476.2 1192.7L1480.9 1193.7L1485.7 1196.2L1490.4 1197.0L1495.2 1199.1L1499.9 1197.7L1504.7 1193.6L1509.4 1194.3L1514.2 1195.8L1518.9 1191.7L1523.7 1195.6L1528.4 1189.7L1533.2 1176.3L1537.9 1175.4L1542.7 1169.2L1547.4 1155.3L1552.2 1160.1L1556.9 1172.8L1561.7 1176.4L1566.4 1178.4L1571.2 1178.5L1575.9 1180.2L1580.7 1181.8L1585.4 1173.6L1590.2 1176.0L1594.9 1181.4L1599.7 1182.3L1604.4 1182.7L1609.2 1188.9L1613.9 1189.3L1618.7 1196.6L1623.4 1190.4L1628.2 1192.4L1632.9 1192.8L1637.7 1193.0L1642.4 1199.1L1647.2 1191.0L1651.9 1189.9L1656.7 1190.4L1661.4 1198.7L1666.2 1203.2L1670.9 1207.9L1675.7 1210.5L1680.4 1205.7L1680.4 1160.1L13.2 1160.1Z" fill="url(#ob)" clip-path="url(#obc)"/>
<path d="M13.2 1179.2L17.9 1181.1L22.7 1183.9L27.4 1179.1L32.2 1180.6L36.9 1184.1L41.7 1184.0L46.4 1184.0L51.2 1192.9L55.9 1191.3L60.7 1194.7L65.4 1194.7L70.2 1196.3L74.9 1194.1L79.7 1170.5L84.4 1185.6L89.2 1184.0L93.9 1182.8L98.7 1180.3L103.4 1185.9L108.2 1187.4L112.9 1191.9L117.7 1194.5L122.4 1189.8L127.2 1187.7L131.9 1187.3L136.7 1183.9L141.4 1182.8L146.2 1185.9L150.9 1184.4L155.7 1186.3L160.4 1177.3L165.2 1181.3L169.9 1183.3L174.7 1183.5L179.4 1181.0L184.2 1180.6L188.9 1180.6L193.7 1185.2L198.4 1185.6L203.2 1191.2L207.9 1194.1L212.7 1193.9L217.4 1195.9L222.2 1192.6L226.9 1197.6L231.7 1194.7L236.4 1190.7L241.2 1189.7L245.9 1199.3L250.7 1200.2L255.4 1203.8L260.1 1188.6L264.9 1192.1L269.6 1189.1L274.4 1182.6L279.1 1184.5L283.9 1184.0L288.6 1186.2L293.4 1186.2L298.1 1187.1L302.9 1187.4L307.6 1185.6L312.4 1186.1L317.1 1185.5L321.9 1176.7L326.6 1176.5L331.4 1177.6L336.1 1179.7L340.9 1179.0L345.6 1174.2L350.4 1171.2L355.1 1176.7L359.9 1180.9L364.6 1179.4L369.4 1179.6L374.1 1181.8L378.9 1185.0L383.6 1187.6L388.4 1184.7L393.1 1187.9L397.9 1170.2L402.6 1169.1L407.4 1161.5L412.1 1172.1L416.9 1163.3L421.6 1161.5L426.4 1164.7L431.1 1177.5L435.9 1177.9L440.6 1179.8L445.4 1175.2L450.1 1178.8L454.9 1180.6L459.6 1177.9L464.4 1175.6L469.1 1185.6L473.9 1183.3L478.6 1182.4L483.4 1184.8L488.1 1184.6L492.9 1187.8L497.6 1190.3L502.4 1197.4L507.1 1193.7L511.9 1193.2L516.6 1191.5L521.4 1186.6L526.1 1190.4L530.9 1198.2L535.6 1191.3L540.4 1189.5L545.1 1181.4L549.9 1177.5L554.6 1178.8L559.4 1182.2L564.1 1188.7L568.9 1190.9L573.6 1192.7L578.4 1189.7L583.1 1182.6L587.9 1189.5L592.6 1188.4L597.4 1188.8L602.1 1192.6L606.9 1196.9L611.6 1200.0L616.4 1185.7L621.1 1183.0L625.9 1183.4L630.6 1190.6L635.4 1186.4L640.1 1182.6L644.9 1180.8L649.6 1178.3L654.4 1184.3L659.1 1179.0L663.9 1177.1L668.6 1180.8L673.4 1181.0L678.1 1176.2L682.9 1176.1L687.6 1172.6L692.4 1165.3L697.1 1157.4L701.9 1150.5L706.6 1150.3L711.4 1147.4L716.1 1144.3L720.9 1149.0L725.6 1145.9L730.4 1139.0L735.1 1144.5L739.9 1144.3L744.6 1143.8L749.4 1142.3L754.1 1142.3L758.9 1168.8L763.6 1170.8L768.4 1170.8L773.1 1169.9L777.9 1167.1L782.6 1174.3L787.4 1174.3L792.1 1176.2L796.9 1180.8L801.6 1184.4L806.4 1193.8L811.1 1183.9L815.9 1178.3L820.6 1183.7L825.4 1182.2L830.1 1169.6L834.9 1171.5L839.6 1174.5L844.4 1176.5L849.1 1179.3L853.9 1173.6L858.6 1173.4L863.4 1183.2L868.1 1183.2L872.9 1181.9L877.6 1182.9L882.4 1184.4L887.1 1194.0L891.9 1188.7L896.6 1193.1L901.4 1181.8L906.1 1183.1L910.9 1184.1L915.6 1191.4L920.4 1183.9L925.1 1185.9L929.9 1185.9L934.6 1192.3L939.4 1192.3L944.1 1194.4L948.9 1194.9L953.6 1188.3L958.4 1189.3L963.1 1192.0L967.9 1190.2L972.6 1190.5L977.4 1185.8L982.1 1179.8L986.9 1181.5L991.6 1179.1L996.4 1175.6L1001.1 1171.8L1005.9 1171.0L1010.6 1178.6L1015.4 1180.8L1020.1 1178.1L1024.9 1174.9L1029.7 1175.9L1034.4 1182.8L1039.2 1184.0L1043.9 1184.2L1048.7 1193.3L1053.4 1195.0L1058.2 1186.0L1062.9 1197.1L1067.7 1193.9L1072.4 1192.1L1077.2 1187.1L1081.9 1186.3L1086.7 1188.5L1091.4 1180.7L1096.2 1174.8L1100.9 1174.8L1105.7 1180.7L1110.4 1180.5L1115.2 1179.1L1119.9 1189.6L1124.7 1187.4L1129.4 1192.6L1134.2 1210.6L1138.9 1209.6L1143.7 1199.0L1148.4 1194.1L1153.2 1198.2L1157.9 1201.5L1162.7 1204.3L1167.4 1205.4L1172.2 1200.7L1176.9 1198.5L1181.7 1191.4L1186.4 1194.8L1191.2 1197.3L1195.9 1195.2L1200.7 1187.5L1205.4 1182.7L1210.2 1179.9L1214.9 1180.8L1219.7 1182.5L1224.4 1185.8L1229.2 1192.2L1233.9 1187.4L1238.7 1187.6L1243.4 1186.0L1248.2 1197.7L1252.9 1202.1L1257.7 1192.6L1262.4 1198.0L1267.2 1191.4L1271.9 1192.9L1276.7 1188.1L1281.4 1179.9L1286.2 1186.4L1290.9 1186.4L1295.7 1189.7L1300.4 1193.0L1305.2 1193.4L1309.9 1194.4L1314.7 1196.7L1319.4 1192.9L1324.2 1198.0L1328.9 1202.3L1333.7 1204.2L1338.4 1204.2L1343.2 1196.4L1347.9 1184.9L1352.7 1186.3L1357.4 1184.9L1362.2 1186.4L1366.9 1187.6L1371.7 1186.0L1376.4 1189.0L1381.2 1196.1L1385.9 1187.2L1390.7 1184.1L1395.4 1190.1L1400.2 1193.4L1404.9 1193.5L1409.7 1192.5L1414.4 1190.1L1419.2 1187.5L1423.9 1191.8L1428.7 1192.3L1433.4 1194.1L1438.2 1192.5L1442.9 1195.7L1447.7 1200.8L1452.4 1197.3L1457.2 1201.4L1461.9 1204.5L1466.7 1193.8L1471.4 1191.6L1476.2 1192.7L1480.9 1193.7L1485.7 1196.2L1490.4 1197.0L1495.2 1199.1L1499.9 1197.7L1504.7 1193.6L1509.4 1194.3L1514.2 1195.8L1518.9 1191.7L1523.7 1195.6L1528.4 1189.7L1533.2 1176.3L1537.9 1175.4L1542.7 1169.2L1547.4 1155.3L1552.2 1160.1L1556.9 1172.8L1561.7 1176.4L1566.4 1178.4L1571.2 1178.5L1575.9 1180.2L1580.7 1181.8L1585.4 1173.6L1590.2 1176.0L1594.9 1181.4L1599.7 1182.3L1604.4 1182.7L1609.2 1188.9L1613.9 1189.3L1618.7 1196.6L1623.4 1190.4L1628.2 1192.4L1632.9 1192.8L1637.7 1193.0L1642.4 1199.1L1647.2 1191.0L1651.9 1189.9L1656.7 1190.4L1661.4 1198.7L1666.2 1203.2L1670.9 1207.9L1675.7 1210.5L1680.4 1205.7L1680.4 1206.3L13.2 1206.3Z" fill="url(#os)" clip-path="url(#osc)"/>
</g>
<path d="M10 1160.5H2042M10 1183.5H2042M10 1206.5H2042" stroke="#6a6d78" stroke-width="1" stroke-dasharray="5 4"/>
<g clip-path="url(#rsic)">
<path d="M13.2 1191.7L17.9 1190.9L22.7 1190.3L27.4 1189.3L32.2 1188.4L36.9 1187.8L41.7 1187.2L46.4 1186.6L51.2 1186.6L55.9 1186.5L60.7 1186.6L65.4 1186.8L70.2 1187.0L74.9 1187.1L79.7 1186.5L84.4 1186.8L89.2 1186.8L93.9 1187.1L98.7 1187.1L103.4 1187.2L108.2 1187.5L112.9 1188.0L117.7 1188.1L122.4 1188.0L127.2 1187.5L131.9 1187.0L136.7 1186.1L141.4 1185.3L146.2 1186.4L150.9 1186.3L155.7 1186.5L160.4 1186.1L165.2 1186.2L169.9 1186.0L174.7 1185.7L179.4 1184.9L184.2 1183.9L188.9 1183.3L193.7 1183.1L198.4 1183.0L203.2 1183.5L207.9 1184.3L212.7 1184.9L217.4 1185.7L222.2 1186.2L226.9 1187.6L231.7 1188.6L236.4 1189.1L241.2 1189.5L245.9 1190.8L250.7 1192.2L255.4 1193.9L260.1 1194.1L264.9 1194.6L269.6 1194.4L274.4 1193.6L279.1 1193.0L283.9 1192.1L288.6 1191.7L293.4 1190.8L298.1 1190.3L302.9 1190.1L307.6 1189.8L312.4 1188.8L317.1 1187.8L321.9 1185.8L326.6 1185.0L331.4 1183.9L336.1 1183.3L340.9 1183.0L345.6 1182.3L350.4 1181.4L355.1 1180.7L359.9 1180.3L364.6 1179.7L369.4 1179.2L374.1 1178.9L378.9 1178.8L383.6 1179.0L388.4 1179.6L393.1 1180.4L397.9 1179.9L402.6 1179.1L407.4 1177.9L412.1 1177.7L416.9 1177.1L421.6 1176.1L426.4 1174.9L431.1 1174.8L435.9 1174.6L440.6 1174.5L445.4 1173.8L450.1 1173.2L454.9 1172.9L459.6 1172.2L464.4 1172.5L469.1 1173.7L473.9 1175.3L478.6 1176.0L483.4 1177.6L488.1 1179.2L492.9 1180.9L497.6 1181.8L502.4 1183.2L507.1 1184.2L511.9 1185.4L516.6 1186.3L521.4 1186.8L526.1 1187.7L530.9 1189.3L535.6 1189.7L540.4 1190.1L545.1 1190.0L549.9 1189.5L554.6 1189.1L559.4 1188.7L564.1 1188.6L568.9 1188.1L573.6 1188.1L578.4 1187.8L583.1 1187.2L587.9 1187.4L592.6 1187.2L597.4 1186.6L602.1 1186.7L606.9 1187.2L611.6 1188.5L616.4 1189.1L621.1 1189.4L625.9 1189.5L630.6 1189.6L635.4 1189.3L640.1 1188.6L644.9 1188.0L649.6 1187.6L654.4 1187.3L659.1 1186.6L663.9 1185.8L668.6 1184.9L673.4 1183.8L678.1 1182.1L682.9 1181.4L687.6 1180.7L692.4 1179.4L697.1 1177.0L701.9 1174.4L706.6 1172.1L711.4 1169.7L716.1 1167.3L720.9 1164.8L725.6 1162.4L730.4 1159.7L735.1 1157.1L739.9 1154.5L744.6 1152.2L749.4 1149.8L754.1 1147.6L758.9 1147.8L763.6 1148.8L768.4 1150.3L773.1 1151.7L777.9 1153.1L782.6 1155.2L787.4 1157.0L792.1 1159.2L796.9 1162.2L801.6 1165.0L806.4 1168.5L811.1 1171.4L815.9 1174.0L820.6 1176.9L825.4 1177.9L830.1 1177.8L834.9 1177.8L839.6 1178.2L844.4 1178.8L849.1 1179.2L853.9 1179.1L858.6 1178.9L863.4 1179.1L868.1 1179.0L872.9 1178.2L877.6 1178.1L882.4 1178.6L887.1 1179.3L891.9 1179.8L896.6 1181.4L901.4 1182.2L906.1 1182.8L910.9 1183.3L915.6 1184.2L920.4 1184.9L925.1 1185.8L929.9 1186.0L934.6 1186.7L939.4 1187.4L944.1 1188.2L948.9 1189.0L953.6 1188.6L958.4 1188.6L963.1 1188.5L967.9 1189.1L972.6 1189.7L977.4 1189.8L982.1 1189.0L986.9 1188.8L991.6 1188.3L996.4 1187.6L1001.1 1186.1L1005.9 1184.6L1010.6 1183.5L1015.4 1182.5L1020.1 1181.7L1024.9 1180.7L1029.7 1179.6L1034.4 1179.0L1039.2 1178.6L1043.9 1178.4L1048.7 1179.4L1053.4 1180.4L1058.2 1180.9L1062.9 1182.4L1067.7 1184.0L1072.4 1185.5L1077.2 1186.1L1081.9 1186.5L1086.7 1187.2L1091.4 1187.6L1096.2 1187.6L1100.9 1187.0L1105.7 1186.8L1110.4 1186.5L1115.2 1185.5L1119.9 1185.1L1124.7 1185.2L1129.4 1184.9L1134.2 1186.1L1138.9 1187.3L1143.7 1188.2L1148.4 1188.7L1153.2 1189.4L1157.9 1190.9L1162.7 1193.0L1167.4 1195.2L1172.2 1196.6L1176.9 1197.9L1181.7 1198.8L1186.4 1199.2L1191.2 1199.9L1195.9 1200.0L1200.7 1198.4L1205.4 1196.5L1210.2 1195.1L1214.9 1194.2L1219.7 1193.0L1224.4 1191.9L1229.2 1191.1L1233.9 1189.8L1238.7 1188.8L1243.4 1187.9L1248.2 1188.4L1252.9 1188.9L1257.7 1188.6L1262.4 1188.8L1267.2 1189.1L1271.9 1189.8L1276.7 1190.4L1281.4 1190.3L1286.2 1190.6L1290.9 1190.6L1295.7 1190.4L1300.4 1190.9L1305.2 1191.3L1309.9 1191.9L1314.7 1191.8L1319.4 1191.1L1324.2 1191.5L1328.9 1191.8L1333.7 1192.7L1338.4 1193.5L1343.2 1194.1L1347.9 1194.5L1352.7 1194.5L1357.4 1194.4L1362.2 1194.1L1366.9 1193.8L1371.7 1193.2L1376.4 1192.8L1381.2 1192.8L1385.9 1192.4L1390.7 1191.4L1395.4 1190.5L1400.2 1189.8L1404.9 1189.0L1409.7 1188.7L1414.4 1189.1L1419.2 1189.2L1423.9 1189.7L1428.7 1190.1L1433.4 1190.6L1438.2 1191.0L1442.9 1191.5L1447.7 1191.8L1452.4 1192.5L1457.2 1193.8L1461.9 1194.8L1466.7 1194.8L1471.4 1194.7L1476.2 1194.7L1480.9 1195.0L1485.7 1195.6L1490.4 1196.0L1495.2 1196.5L1499.9 1196.7L1504.7 1196.8L1509.4 1196.7L1514.2 1196.3L1518.9 1195.9L1523.7 1195.5L1528.4 1194.5L1533.2 1193.2L1537.9 1192.1L1542.7 1190.4L1547.4 1187.6L1552.2 1185.1L1556.9 1183.3L1561.7 1181.7L1566.4 1180.3L1571.2 1179.3L1575.9 1178.2L1580.7 1177.2L1585.4 1176.0L1590.2 1174.6L1594.9 1174.0L1599.7 1174.4L1604.4 1174.9L1609.2 1176.3L1613.9 1178.8L1618.7 1181.4L1623.4 1182.6L1628.2 1183.8L1632.9 1184.8L1637.7 1185.8L1642.4 1187.2L1647.2 1187.8L1651.9 1189.0L1656.7 1190.0L1661.4 1191.3L1666.2 1192.8L1670.9 1194.5L1675.7 1196.1L1680.4 1197.3" stroke="#f0e08c" stroke-width="2" fill="none" stroke-linejoin="round"/>
<path d="M13.2 1179.2L17.9 1181.1L22.7 1183.9L27.4 1179.1L32.2 1180.6L36.9 1184.1L41.7 1184.0L46.4 1184.0L51.2 1192.9L55.9 1191.3L60.7 1194.7L65.4 1194.7L70.2 1196.3L74.9 1194.1L79.7 1170.5L84.4 1185.6L89.2 1184.0L93.9 1182.8L98.7 1180.3L103.4 1185.9L108.2 1187.4L112.9 1191.9L117.7 1194.5L122.4 1189.8L127.2 1187.7L131.9 1187.3L136.7 1183.9L141.4 1182.8L146.2 1185.9L150.9 1184.4L155.7 1186.3L160.4 1177.3L165.2 1181.3L169.9 1183.3L174.7 1183.5L179.4 1181.0L184.2 1180.6L188.9 1180.6L193.7 1185.2L198.4 1185.6L203.2 1191.2L207.9 1194.1L212.7 1193.9L217.4 1195.9L222.2 1192.6L226.9 1197.6L231.7 1194.7L236.4 1190.7L241.2 1189.7L245.9 1199.3L250.7 1200.2L255.4 1203.8L260.1 1188.6L264.9 1192.1L269.6 1189.1L274.4 1182.6L279.1 1184.5L283.9 1184.0L288.6 1186.2L293.4 1186.2L298.1 1187.1L302.9 1187.4L307.6 1185.6L312.4 1186.1L317.1 1185.5L321.9 1176.7L326.6 1176.5L331.4 1177.6L336.1 1179.7L340.9 1179.0L345.6 1174.2L350.4 1171.2L355.1 1176.7L359.9 1180.9L364.6 1179.4L369.4 1179.6L374.1 1181.8L378.9 1185.0L383.6 1187.6L388.4 1184.7L393.1 1187.9L397.9 1170.2L402.6 1169.1L407.4 1161.5L412.1 1172.1L416.9 1163.3L421.6 1161.5L426.4 1164.7L431.1 1177.5L435.9 1177.9L440.6 1179.8L445.4 1175.2L450.1 1178.8L454.9 1180.6L459.6 1177.9L464.4 1175.6L469.1 1185.6L473.9 1183.3L478.6 1182.4L483.4 1184.8L488.1 1184.6L492.9 1187.8L497.6 1190.3L502.4 1197.4L507.1 1193.7L511.9 1193.2L516.6 1191.5L521.4 1186.6L526.1 1190.4L530.9 1198.2L535.6 1191.3L540.4 1189.5L545.1 1181.4L549.9 1177.5L554.6 1178.8L559.4 1182.2L564.1 1188.7L568.9 1190.9L573.6 1192.7L578.4 1189.7L583.1 1182.6L587.9 1189.5L592.6 1188.4L597.4 1188.8L602.1 1192.6L606.9 1196.9L611.6 1200.0L616.4 1185.7L621.1 1183.0L625.9 1183.4L630.6 1190.6L635.4 1186.4L640.1 1182.6L644.9 1180.8L649.6 1178.3L654.4 1184.3L659.1 1179.0L663.9 1177.1L668.6 1180.8L673.4 1181.0L678.1 1176.2L682.9 1176.1L687.6 1172.6L692.4 1165.3L697.1 1157.4L701.9 1150.5L706.6 1150.3L711.4 1147.4L716.1 1144.3L720.9 1149.0L725.6 1145.9L730.4 1139.0L735.1 1144.5L739.9 1144.3L744.6 1143.8L749.4 1142.3L754.1 1142.3L758.9 1168.8L763.6 1170.8L768.4 1170.8L773.1 1169.9L777.9 1167.1L782.6 1174.3L787.4 1174.3L792.1 1176.2L796.9 1180.8L801.6 1184.4L806.4 1193.8L811.1 1183.9L815.9 1178.3L820.6 1183.7L825.4 1182.2L830.1 1169.6L834.9 1171.5L839.6 1174.5L844.4 1176.5L849.1 1179.3L853.9 1173.6L858.6 1173.4L863.4 1183.2L868.1 1183.2L872.9 1181.9L877.6 1182.9L882.4 1184.4L887.1 1194.0L891.9 1188.7L896.6 1193.1L901.4 1181.8L906.1 1183.1L910.9 1184.1L915.6 1191.4L920.4 1183.9L925.1 1185.9L929.9 1185.9L934.6 1192.3L939.4 1192.3L944.1 1194.4L948.9 1194.9L953.6 1188.3L958.4 1189.3L963.1 1192.0L967.9 1190.2L972.6 1190.5L977.4 1185.8L982.1 1179.8L986.9 1181.5L991.6 1179.1L996.4 1175.6L1001.1 1171.8L1005.9 1171.0L1010.6 1178.6L1015.4 1180.8L1020.1 1178.1L1024.9 1174.9L1029.7 1175.9L1034.4 1182.8L1039.2 1184.0L1043.9 1184.2L1048.7 1193.3L1053.4 1195.0L1058.2 1186.0L1062.9 1197.1L1067.7 1193.9L1072.4 1192.1L1077.2 1187.1L1081.9 1186.3L1086.7 1188.5L1091.4 1180.7L1096.2 1174.8L1100.9 1174.8L1105.7 1180.7L1110.4 1180.5L1115.2 1179.1L1119.9 1189.6L1124.7 1187.4L1129.4 1192.6L1134.2 1210.6L1138.9 1209.6L1143.7 1199.0L1148.4 1194.1L1153.2 1198.2L1157.9 1201.5L1162.7 1204.3L1167.4 1205.4L1172.2 1200.7L1176.9 1198.5L1181.7 1191.4L1186.4 1194.8L1191.2 1197.3L1195.9 1195.2L1200.7 1187.5L1205.4 1182.7L1210.2 1179.9L1214.9 1180.8L1219.7 1182.5L1224.4 1185.8L1229.2 1192.2L1233.9 1187.4L1238.7 1187.6L1243.4 1186.0L1248.2 1197.7L1252.9 1202.1L1257.7 1192.6L1262.4 1198.0L1267.2 1191.4L1271.9 1192.9L1276.7 1188.1L1281.4 1179.9L1286.2 1186.4L1290.9 1186.4L1295.7 1189.7L1300.4 1193.0L1305.2 1193.4L1309.9 1194.4L1314.7 1196.7L1319.4 1192.9L1324.2 1198.0L1328.9 1202.3L1333.7 1204.2L1338.4 1204.2L1343.2 1196.4L1347.9 1184.9L1352.7 1186.3L1357.4 1184.9L1362.2 1186.4L1366.9 1187.6L1371.7 1186.0L1376.4 1189.0L1381.2 1196.1L1385.9 1187.2L1390.7 1184.1L1395.4 1190.1L1400.2 1193.4L1404.9 1193.5L1409.7 1192.5L1414.4 1190.1L1419.2 1187.5L1423.9 1191.8L1428.7 1192.3L1433.4 1194.1L1438.2 1192.5L1442.9 1195.7L1447.7 1200.8L1452.4 1197.3L1457.2 1201.4L1461.9 1204.5L1466.7 1193.8L1471.4 1191.6L1476.2 1192.7L1480.9 1193.7L1485.7 1196.2L1490.4 1197.0L1495.2 1199.1L1499.9 1197.7L1504.7 1193.6L1509.4 1194.3L1514.2 1195.8L1518.9 1191.7L1523.7 1195.6L1528.4 1189.7L1533.2 1176.3L1537.9 1175.4L1542.7 1169.2L1547.4 1155.3L1552.2 1160.1L1556.9 1172.8L1561.7 1176.4L1566.4 1178.4L1571.2 1178.5L1575.9 1180.2L1580.7 1181.8L1585.4 1173.6L1590.2 1176.0L1594.9 1181.4L1599.7 1182.3L1604.4 1182.7L1609.2 1188.9L1613.9 1189.3L1618.7 1196.6L1623.4 1190.4L1628.2 1192.4L1632.9 1192.8L1637.7 1193.0L1642.4 1199.1L1647.2 1191.0L1651.9 1189.9L1656.7 1190.4L1661.4 1198.7L1666.2 1203.2L1670.9 1207.9L1675.7 1210.5L1680.4 1205.7" stroke="#7e57c2" stroke-width="1.2" fill="none" stroke-linejoin="round"/>
</g>
<text x="18" y="1148.5" font-size="12" xml:space="preserve" textLength="210.5" lengthAdjust="spacingAndGlyphs"><tspan fill="#131722">RSI (14, close)  </tspan><tspan fill="#7e57c2">30.28</tspan><tspan fill="#f0d43a">  37.68</tspan><tspan fill="#131722">  ∅  ∅  ∅  ∅</tspan></text>
<text x="2052" y="1152.1" font-size="12" fill="#131722">80.00</text>
<rect x="2044" y="1180.7" width="43" height="17" rx="2" fill="#fbe23e"/>
<text x="2065.5" y="1193.5" font-size="12" fill="#131722" text-anchor="middle">37.68</text>
<rect x="2044" y="1198.3" width="43" height="16" rx="2" fill="#7e57c2"/>
<text x="2065.5" y="1210.6" font-size="12" fill="#ffffff" text-anchor="middle">30.28</text>
<text x="74.9" y="1236.8" font-size="12" fill="#131722" text-anchor="middle">Mar</text>
<text x="222.2" y="1236.8" font-size="12" fill="#131722" text-anchor="middle">Apr</text>
<text x="364.6" y="1236.8" font-size="12" fill="#131722" text-anchor="middle">May</text>
<text x="511.9" y="1236.8" font-size="12" fill="#131722" text-anchor="middle">Jun</text>
<text x="654.4" y="1236.8" font-size="12" fill="#131722" text-anchor="middle">Jul</text>
<text x="801.6" y="1236.8" font-size="12" fill="#131722" text-anchor="middle">Aug</text>
<text x="948.9" y="1236.8" font-size="12" fill="#131722" text-anchor="middle">Sep</text>
<text x="1091.4" y="1236.8" font-size="12" fill="#131722" text-anchor="middle">Oct</text>
<text x="1238.7" y="1236.8" font-size="12" fill="#131722" text-anchor="middle">Nov</text>
<text x="1381.2" y="1236.8" font-size="12" fill="#131722" text-anchor="middle">Dec</text>
<text x="1528.4" y="1236.8" font-size="12" fill="#131722" text-anchor="middle" font-weight="bold">2026</text>
<text x="1675.7" y="1236.8" font-size="12" fill="#131722" text-anchor="middle">Feb</text>
<text x="1808.7" y="1236.8" font-size="12" fill="#131722" text-anchor="middle">Mar</text>
<text x="1955.9" y="1236.8" font-size="12" fill="#131722" text-anchor="middle">Apr</text>
<g fill="#131722">
<path d="M12.1 1269.3H23.6V1283.5H17.9V1274.5H12.1Z"/>
<circle cx="29.4" cy="1271.7" r="2.7"/>
<path d="M35.4 1269.3H41.6L35.9 1283.5H29.4Z"/>
<text x="49" y="1283.5" font-size="19.5" font-weight="bold" textLength="120.5" lengthAdjust="spacingAndGlyphs">TradingView</text>
</g>
</svg></body></html>
